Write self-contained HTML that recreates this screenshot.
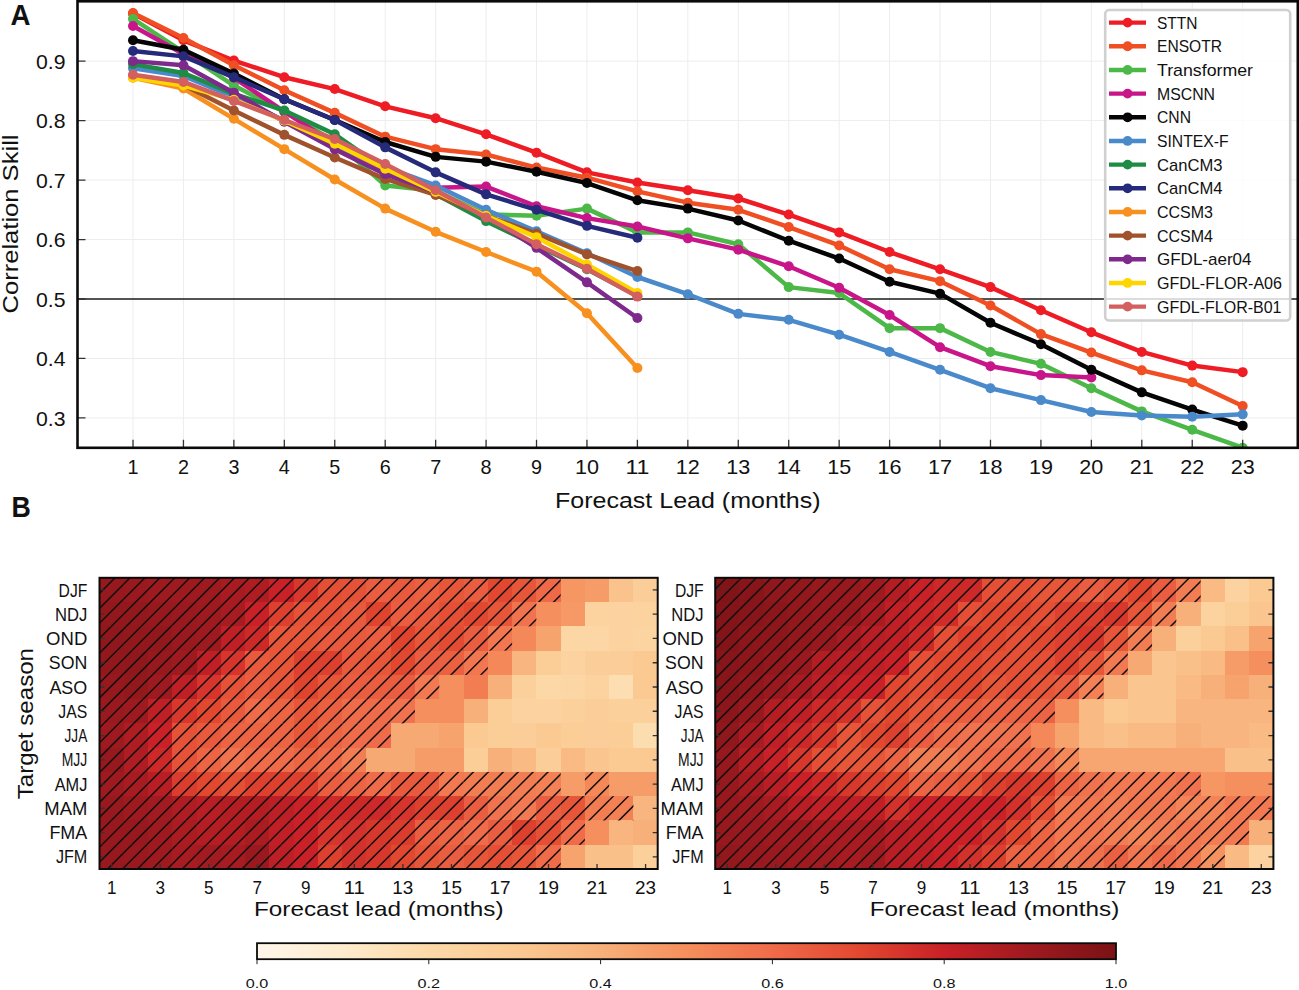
<!DOCTYPE html><html><head><meta charset="utf-8"><style>html,body{margin:0;padding:0;background:#fff;width:1299px;height:990px;overflow:hidden}</style></head><body><svg width="1299" height="990" viewBox="0 0 1299 990" style="display:block">
<rect width="1299" height="990" fill="#ffffff"/>
<defs><clipPath id="clipA"><rect x="77.5" y="1.3" width="1220.3" height="446.5"/></clipPath></defs>
<path d="M133.00 1.3V447.8M183.44 1.3V447.8M233.88 1.3V447.8M284.32 1.3V447.8M334.76 1.3V447.8M385.20 1.3V447.8M435.64 1.3V447.8M486.08 1.3V447.8M536.52 1.3V447.8M586.96 1.3V447.8M637.40 1.3V447.8M687.84 1.3V447.8M738.28 1.3V447.8M788.72 1.3V447.8M839.16 1.3V447.8M889.60 1.3V447.8M940.04 1.3V447.8M990.48 1.3V447.8M1040.92 1.3V447.8M1091.36 1.3V447.8M1141.80 1.3V447.8M1192.24 1.3V447.8M1242.68 1.3V447.8M77.5 417.93H1297.8M77.5 358.47H1297.8M77.5 239.53H1297.8M77.5 180.07H1297.8M77.5 120.60H1297.8M77.5 61.13H1297.8" stroke="#ededed" stroke-width="1" fill="none"/>
<line x1="77.5" y1="299.00" x2="1297.8" y2="299.00" stroke="#1a1a1a" stroke-width="1.6"/>
<g clip-path="url(#clipA)">
<polyline points="133.00,13.56 183.44,40.32 233.88,60.54 284.32,77.19 334.76,89.08 385.20,106.33 435.64,118.22 486.08,134.28 536.52,152.71 586.96,172.34 637.40,182.44 687.84,190.18 738.28,198.50 788.72,214.56 839.16,232.40 889.60,252.02 940.04,269.27 990.48,287.11 1040.92,310.30 1091.36,332.30 1141.80,351.93 1192.24,365.60 1242.68,372.14" fill="none" stroke="#ee1c25" stroke-width="4.5" stroke-linejoin="round"/>
<circle cx="133.00" cy="13.56" r="5.0" fill="#ee1c25"/>
<circle cx="183.44" cy="40.32" r="5.0" fill="#ee1c25"/>
<circle cx="233.88" cy="60.54" r="5.0" fill="#ee1c25"/>
<circle cx="284.32" cy="77.19" r="5.0" fill="#ee1c25"/>
<circle cx="334.76" cy="89.08" r="5.0" fill="#ee1c25"/>
<circle cx="385.20" cy="106.33" r="5.0" fill="#ee1c25"/>
<circle cx="435.64" cy="118.22" r="5.0" fill="#ee1c25"/>
<circle cx="486.08" cy="134.28" r="5.0" fill="#ee1c25"/>
<circle cx="536.52" cy="152.71" r="5.0" fill="#ee1c25"/>
<circle cx="586.96" cy="172.34" r="5.0" fill="#ee1c25"/>
<circle cx="637.40" cy="182.44" r="5.0" fill="#ee1c25"/>
<circle cx="687.84" cy="190.18" r="5.0" fill="#ee1c25"/>
<circle cx="738.28" cy="198.50" r="5.0" fill="#ee1c25"/>
<circle cx="788.72" cy="214.56" r="5.0" fill="#ee1c25"/>
<circle cx="839.16" cy="232.40" r="5.0" fill="#ee1c25"/>
<circle cx="889.60" cy="252.02" r="5.0" fill="#ee1c25"/>
<circle cx="940.04" cy="269.27" r="5.0" fill="#ee1c25"/>
<circle cx="990.48" cy="287.11" r="5.0" fill="#ee1c25"/>
<circle cx="1040.92" cy="310.30" r="5.0" fill="#ee1c25"/>
<circle cx="1091.36" cy="332.30" r="5.0" fill="#ee1c25"/>
<circle cx="1141.80" cy="351.93" r="5.0" fill="#ee1c25"/>
<circle cx="1192.24" cy="365.60" r="5.0" fill="#ee1c25"/>
<circle cx="1242.68" cy="372.14" r="5.0" fill="#ee1c25"/>
<polyline points="133.00,12.96 183.44,37.94 233.88,65.29 284.32,90.27 334.76,112.87 385.20,136.66 435.64,149.14 486.08,154.50 536.52,167.58 586.96,177.69 637.40,191.36 687.84,202.66 738.28,209.80 788.72,227.04 839.16,245.48 889.60,269.27 940.04,281.16 990.48,305.54 1040.92,334.09 1091.36,352.52 1141.80,370.36 1192.24,382.25 1242.68,406.04" fill="none" stroke="#f04e23" stroke-width="4.5" stroke-linejoin="round"/>
<circle cx="133.00" cy="12.96" r="5.0" fill="#f04e23"/>
<circle cx="183.44" cy="37.94" r="5.0" fill="#f04e23"/>
<circle cx="233.88" cy="65.29" r="5.0" fill="#f04e23"/>
<circle cx="284.32" cy="90.27" r="5.0" fill="#f04e23"/>
<circle cx="334.76" cy="112.87" r="5.0" fill="#f04e23"/>
<circle cx="385.20" cy="136.66" r="5.0" fill="#f04e23"/>
<circle cx="435.64" cy="149.14" r="5.0" fill="#f04e23"/>
<circle cx="486.08" cy="154.50" r="5.0" fill="#f04e23"/>
<circle cx="536.52" cy="167.58" r="5.0" fill="#f04e23"/>
<circle cx="586.96" cy="177.69" r="5.0" fill="#f04e23"/>
<circle cx="637.40" cy="191.36" r="5.0" fill="#f04e23"/>
<circle cx="687.84" cy="202.66" r="5.0" fill="#f04e23"/>
<circle cx="738.28" cy="209.80" r="5.0" fill="#f04e23"/>
<circle cx="788.72" cy="227.04" r="5.0" fill="#f04e23"/>
<circle cx="839.16" cy="245.48" r="5.0" fill="#f04e23"/>
<circle cx="889.60" cy="269.27" r="5.0" fill="#f04e23"/>
<circle cx="940.04" cy="281.16" r="5.0" fill="#f04e23"/>
<circle cx="990.48" cy="305.54" r="5.0" fill="#f04e23"/>
<circle cx="1040.92" cy="334.09" r="5.0" fill="#f04e23"/>
<circle cx="1091.36" cy="352.52" r="5.0" fill="#f04e23"/>
<circle cx="1141.80" cy="370.36" r="5.0" fill="#f04e23"/>
<circle cx="1192.24" cy="382.25" r="5.0" fill="#f04e23"/>
<circle cx="1242.68" cy="406.04" r="5.0" fill="#f04e23"/>
<polyline points="133.00,18.91 183.44,52.21 233.88,85.51 284.32,111.68 334.76,141.41 385.20,185.42 435.64,190.77 486.08,214.56 536.52,215.75 586.96,208.61 637.40,232.40 687.84,232.40 738.28,244.29 788.72,287.11 839.16,293.05 889.60,328.14 940.04,328.14 990.48,351.93 1040.92,363.82 1091.36,388.20 1141.80,411.39 1192.24,429.83 1242.68,447.67" fill="none" stroke="#4cb847" stroke-width="4.5" stroke-linejoin="round"/>
<circle cx="133.00" cy="18.91" r="5.0" fill="#4cb847"/>
<circle cx="183.44" cy="52.21" r="5.0" fill="#4cb847"/>
<circle cx="233.88" cy="85.51" r="5.0" fill="#4cb847"/>
<circle cx="284.32" cy="111.68" r="5.0" fill="#4cb847"/>
<circle cx="334.76" cy="141.41" r="5.0" fill="#4cb847"/>
<circle cx="385.20" cy="185.42" r="5.0" fill="#4cb847"/>
<circle cx="435.64" cy="190.77" r="5.0" fill="#4cb847"/>
<circle cx="486.08" cy="214.56" r="5.0" fill="#4cb847"/>
<circle cx="536.52" cy="215.75" r="5.0" fill="#4cb847"/>
<circle cx="586.96" cy="208.61" r="5.0" fill="#4cb847"/>
<circle cx="637.40" cy="232.40" r="5.0" fill="#4cb847"/>
<circle cx="687.84" cy="232.40" r="5.0" fill="#4cb847"/>
<circle cx="738.28" cy="244.29" r="5.0" fill="#4cb847"/>
<circle cx="788.72" cy="287.11" r="5.0" fill="#4cb847"/>
<circle cx="839.16" cy="293.05" r="5.0" fill="#4cb847"/>
<circle cx="889.60" cy="328.14" r="5.0" fill="#4cb847"/>
<circle cx="940.04" cy="328.14" r="5.0" fill="#4cb847"/>
<circle cx="990.48" cy="351.93" r="5.0" fill="#4cb847"/>
<circle cx="1040.92" cy="363.82" r="5.0" fill="#4cb847"/>
<circle cx="1091.36" cy="388.20" r="5.0" fill="#4cb847"/>
<circle cx="1141.80" cy="411.39" r="5.0" fill="#4cb847"/>
<circle cx="1192.24" cy="429.83" r="5.0" fill="#4cb847"/>
<circle cx="1242.68" cy="447.67" r="5.0" fill="#4cb847"/>
<polyline points="133.00,26.05 183.44,54.00 233.88,77.78 284.32,111.68 334.76,143.79 385.20,169.36 435.64,187.80 486.08,186.61 536.52,206.23 586.96,218.12 637.40,226.45 687.84,238.34 738.28,249.64 788.72,266.29 839.16,287.70 889.60,315.06 940.04,347.17 990.48,366.20 1040.92,375.12 1091.36,377.50" fill="none" stroke="#c8168a" stroke-width="4.5" stroke-linejoin="round"/>
<circle cx="133.00" cy="26.05" r="5.0" fill="#c8168a"/>
<circle cx="183.44" cy="54.00" r="5.0" fill="#c8168a"/>
<circle cx="233.88" cy="77.78" r="5.0" fill="#c8168a"/>
<circle cx="284.32" cy="111.68" r="5.0" fill="#c8168a"/>
<circle cx="334.76" cy="143.79" r="5.0" fill="#c8168a"/>
<circle cx="385.20" cy="169.36" r="5.0" fill="#c8168a"/>
<circle cx="435.64" cy="187.80" r="5.0" fill="#c8168a"/>
<circle cx="486.08" cy="186.61" r="5.0" fill="#c8168a"/>
<circle cx="536.52" cy="206.23" r="5.0" fill="#c8168a"/>
<circle cx="586.96" cy="218.12" r="5.0" fill="#c8168a"/>
<circle cx="637.40" cy="226.45" r="5.0" fill="#c8168a"/>
<circle cx="687.84" cy="238.34" r="5.0" fill="#c8168a"/>
<circle cx="738.28" cy="249.64" r="5.0" fill="#c8168a"/>
<circle cx="788.72" cy="266.29" r="5.0" fill="#c8168a"/>
<circle cx="839.16" cy="287.70" r="5.0" fill="#c8168a"/>
<circle cx="889.60" cy="315.06" r="5.0" fill="#c8168a"/>
<circle cx="940.04" cy="347.17" r="5.0" fill="#c8168a"/>
<circle cx="990.48" cy="366.20" r="5.0" fill="#c8168a"/>
<circle cx="1040.92" cy="375.12" r="5.0" fill="#c8168a"/>
<circle cx="1091.36" cy="377.50" r="5.0" fill="#c8168a"/>
<polyline points="133.00,40.32 183.44,49.83 233.88,73.62 284.32,99.19 334.76,120.00 385.20,142.01 435.64,156.87 486.08,161.63 536.52,171.74 586.96,183.04 637.40,200.28 687.84,208.61 738.28,220.50 788.72,240.72 839.16,258.56 889.60,281.75 940.04,293.65 990.48,322.79 1040.92,344.19 1091.36,369.77 1141.80,392.36 1192.24,409.61 1242.68,425.66" fill="none" stroke="#050505" stroke-width="4.5" stroke-linejoin="round"/>
<circle cx="133.00" cy="40.32" r="5.0" fill="#050505"/>
<circle cx="183.44" cy="49.83" r="5.0" fill="#050505"/>
<circle cx="233.88" cy="73.62" r="5.0" fill="#050505"/>
<circle cx="284.32" cy="99.19" r="5.0" fill="#050505"/>
<circle cx="334.76" cy="120.00" r="5.0" fill="#050505"/>
<circle cx="385.20" cy="142.01" r="5.0" fill="#050505"/>
<circle cx="435.64" cy="156.87" r="5.0" fill="#050505"/>
<circle cx="486.08" cy="161.63" r="5.0" fill="#050505"/>
<circle cx="536.52" cy="171.74" r="5.0" fill="#050505"/>
<circle cx="586.96" cy="183.04" r="5.0" fill="#050505"/>
<circle cx="637.40" cy="200.28" r="5.0" fill="#050505"/>
<circle cx="687.84" cy="208.61" r="5.0" fill="#050505"/>
<circle cx="738.28" cy="220.50" r="5.0" fill="#050505"/>
<circle cx="788.72" cy="240.72" r="5.0" fill="#050505"/>
<circle cx="839.16" cy="258.56" r="5.0" fill="#050505"/>
<circle cx="889.60" cy="281.75" r="5.0" fill="#050505"/>
<circle cx="940.04" cy="293.65" r="5.0" fill="#050505"/>
<circle cx="990.48" cy="322.79" r="5.0" fill="#050505"/>
<circle cx="1040.92" cy="344.19" r="5.0" fill="#050505"/>
<circle cx="1091.36" cy="369.77" r="5.0" fill="#050505"/>
<circle cx="1141.80" cy="392.36" r="5.0" fill="#050505"/>
<circle cx="1192.24" cy="409.61" r="5.0" fill="#050505"/>
<circle cx="1242.68" cy="425.66" r="5.0" fill="#050505"/>
<polyline points="133.00,68.27 183.44,76.00 233.88,96.81 284.32,120.60 334.76,144.39 385.20,166.98 435.64,185.42 486.08,209.80 536.52,231.21 586.96,253.21 637.40,277.00 687.84,294.24 738.28,313.87 788.72,319.81 839.16,334.68 889.60,351.93 940.04,369.77 990.48,388.20 1040.92,400.09 1091.36,411.99 1141.80,415.56 1192.24,416.74 1242.68,414.37" fill="none" stroke="#4a8acb" stroke-width="4.5" stroke-linejoin="round"/>
<circle cx="133.00" cy="68.27" r="5.0" fill="#4a8acb"/>
<circle cx="183.44" cy="76.00" r="5.0" fill="#4a8acb"/>
<circle cx="233.88" cy="96.81" r="5.0" fill="#4a8acb"/>
<circle cx="284.32" cy="120.60" r="5.0" fill="#4a8acb"/>
<circle cx="334.76" cy="144.39" r="5.0" fill="#4a8acb"/>
<circle cx="385.20" cy="166.98" r="5.0" fill="#4a8acb"/>
<circle cx="435.64" cy="185.42" r="5.0" fill="#4a8acb"/>
<circle cx="486.08" cy="209.80" r="5.0" fill="#4a8acb"/>
<circle cx="536.52" cy="231.21" r="5.0" fill="#4a8acb"/>
<circle cx="586.96" cy="253.21" r="5.0" fill="#4a8acb"/>
<circle cx="637.40" cy="277.00" r="5.0" fill="#4a8acb"/>
<circle cx="687.84" cy="294.24" r="5.0" fill="#4a8acb"/>
<circle cx="738.28" cy="313.87" r="5.0" fill="#4a8acb"/>
<circle cx="788.72" cy="319.81" r="5.0" fill="#4a8acb"/>
<circle cx="839.16" cy="334.68" r="5.0" fill="#4a8acb"/>
<circle cx="889.60" cy="351.93" r="5.0" fill="#4a8acb"/>
<circle cx="940.04" cy="369.77" r="5.0" fill="#4a8acb"/>
<circle cx="990.48" cy="388.20" r="5.0" fill="#4a8acb"/>
<circle cx="1040.92" cy="400.09" r="5.0" fill="#4a8acb"/>
<circle cx="1091.36" cy="411.99" r="5.0" fill="#4a8acb"/>
<circle cx="1141.80" cy="415.56" r="5.0" fill="#4a8acb"/>
<circle cx="1192.24" cy="416.74" r="5.0" fill="#4a8acb"/>
<circle cx="1242.68" cy="414.37" r="5.0" fill="#4a8acb"/>
<polyline points="133.00,64.11 183.44,73.03 233.88,93.84 284.32,110.49 334.76,134.28 385.20,169.36 435.64,194.34 486.08,221.10 536.52,245.48 586.96,269.27 637.40,296.03" fill="none" stroke="#1e8c45" stroke-width="4.5" stroke-linejoin="round"/>
<circle cx="133.00" cy="64.11" r="5.0" fill="#1e8c45"/>
<circle cx="183.44" cy="73.03" r="5.0" fill="#1e8c45"/>
<circle cx="233.88" cy="93.84" r="5.0" fill="#1e8c45"/>
<circle cx="284.32" cy="110.49" r="5.0" fill="#1e8c45"/>
<circle cx="334.76" cy="134.28" r="5.0" fill="#1e8c45"/>
<circle cx="385.20" cy="169.36" r="5.0" fill="#1e8c45"/>
<circle cx="435.64" cy="194.34" r="5.0" fill="#1e8c45"/>
<circle cx="486.08" cy="221.10" r="5.0" fill="#1e8c45"/>
<circle cx="536.52" cy="245.48" r="5.0" fill="#1e8c45"/>
<circle cx="586.96" cy="269.27" r="5.0" fill="#1e8c45"/>
<circle cx="637.40" cy="296.03" r="5.0" fill="#1e8c45"/>
<polyline points="133.00,51.02 183.44,56.37 233.88,77.19 284.32,99.19 334.76,120.00 385.20,147.36 435.64,172.34 486.08,194.34 536.52,209.80 586.96,225.86 637.40,237.75" fill="none" stroke="#262a7a" stroke-width="4.5" stroke-linejoin="round"/>
<circle cx="133.00" cy="51.02" r="5.0" fill="#262a7a"/>
<circle cx="183.44" cy="56.37" r="5.0" fill="#262a7a"/>
<circle cx="233.88" cy="77.19" r="5.0" fill="#262a7a"/>
<circle cx="284.32" cy="99.19" r="5.0" fill="#262a7a"/>
<circle cx="334.76" cy="120.00" r="5.0" fill="#262a7a"/>
<circle cx="385.20" cy="147.36" r="5.0" fill="#262a7a"/>
<circle cx="435.64" cy="172.34" r="5.0" fill="#262a7a"/>
<circle cx="486.08" cy="194.34" r="5.0" fill="#262a7a"/>
<circle cx="536.52" cy="209.80" r="5.0" fill="#262a7a"/>
<circle cx="586.96" cy="225.86" r="5.0" fill="#262a7a"/>
<circle cx="637.40" cy="237.75" r="5.0" fill="#262a7a"/>
<polyline points="133.00,77.78 183.44,88.49 233.88,118.81 284.32,149.14 334.76,179.47 385.20,208.61 435.64,231.80 486.08,252.02 536.52,271.65 586.96,313.27 637.40,367.98" fill="none" stroke="#f7901e" stroke-width="4.5" stroke-linejoin="round"/>
<circle cx="133.00" cy="77.78" r="5.0" fill="#f7901e"/>
<circle cx="183.44" cy="88.49" r="5.0" fill="#f7901e"/>
<circle cx="233.88" cy="118.81" r="5.0" fill="#f7901e"/>
<circle cx="284.32" cy="149.14" r="5.0" fill="#f7901e"/>
<circle cx="334.76" cy="179.47" r="5.0" fill="#f7901e"/>
<circle cx="385.20" cy="208.61" r="5.0" fill="#f7901e"/>
<circle cx="435.64" cy="231.80" r="5.0" fill="#f7901e"/>
<circle cx="486.08" cy="252.02" r="5.0" fill="#f7901e"/>
<circle cx="536.52" cy="271.65" r="5.0" fill="#f7901e"/>
<circle cx="586.96" cy="313.27" r="5.0" fill="#f7901e"/>
<circle cx="637.40" cy="367.98" r="5.0" fill="#f7901e"/>
<polyline points="133.00,76.00 183.44,84.92 233.88,110.49 284.32,134.87 334.76,157.47 385.20,178.88 435.64,194.93 486.08,215.75 536.52,233.59 586.96,254.40 637.40,271.05" fill="none" stroke="#a0522d" stroke-width="4.5" stroke-linejoin="round"/>
<circle cx="133.00" cy="76.00" r="5.0" fill="#a0522d"/>
<circle cx="183.44" cy="84.92" r="5.0" fill="#a0522d"/>
<circle cx="233.88" cy="110.49" r="5.0" fill="#a0522d"/>
<circle cx="284.32" cy="134.87" r="5.0" fill="#a0522d"/>
<circle cx="334.76" cy="157.47" r="5.0" fill="#a0522d"/>
<circle cx="385.20" cy="178.88" r="5.0" fill="#a0522d"/>
<circle cx="435.64" cy="194.93" r="5.0" fill="#a0522d"/>
<circle cx="486.08" cy="215.75" r="5.0" fill="#a0522d"/>
<circle cx="536.52" cy="233.59" r="5.0" fill="#a0522d"/>
<circle cx="586.96" cy="254.40" r="5.0" fill="#a0522d"/>
<circle cx="637.40" cy="271.05" r="5.0" fill="#a0522d"/>
<polyline points="133.00,61.13 183.44,65.29 233.88,92.65 284.32,121.79 334.76,149.14 385.20,174.12 435.64,191.96 486.08,215.75 536.52,247.86 586.96,282.35 637.40,318.03" fill="none" stroke="#7d2a8c" stroke-width="4.5" stroke-linejoin="round"/>
<circle cx="133.00" cy="61.13" r="5.0" fill="#7d2a8c"/>
<circle cx="183.44" cy="65.29" r="5.0" fill="#7d2a8c"/>
<circle cx="233.88" cy="92.65" r="5.0" fill="#7d2a8c"/>
<circle cx="284.32" cy="121.79" r="5.0" fill="#7d2a8c"/>
<circle cx="334.76" cy="149.14" r="5.0" fill="#7d2a8c"/>
<circle cx="385.20" cy="174.12" r="5.0" fill="#7d2a8c"/>
<circle cx="435.64" cy="191.96" r="5.0" fill="#7d2a8c"/>
<circle cx="486.08" cy="215.75" r="5.0" fill="#7d2a8c"/>
<circle cx="536.52" cy="247.86" r="5.0" fill="#7d2a8c"/>
<circle cx="586.96" cy="282.35" r="5.0" fill="#7d2a8c"/>
<circle cx="637.40" cy="318.03" r="5.0" fill="#7d2a8c"/>
<polyline points="133.00,77.78 183.44,85.51 233.88,99.79 284.32,120.60 334.76,143.79 385.20,168.77 435.64,191.96 486.08,215.75 536.52,237.15 586.96,264.51 637.40,293.05" fill="none" stroke="#ffd500" stroke-width="4.5" stroke-linejoin="round"/>
<circle cx="133.00" cy="77.78" r="5.0" fill="#ffd500"/>
<circle cx="183.44" cy="85.51" r="5.0" fill="#ffd500"/>
<circle cx="233.88" cy="99.79" r="5.0" fill="#ffd500"/>
<circle cx="284.32" cy="120.60" r="5.0" fill="#ffd500"/>
<circle cx="334.76" cy="143.79" r="5.0" fill="#ffd500"/>
<circle cx="385.20" cy="168.77" r="5.0" fill="#ffd500"/>
<circle cx="435.64" cy="191.96" r="5.0" fill="#ffd500"/>
<circle cx="486.08" cy="215.75" r="5.0" fill="#ffd500"/>
<circle cx="536.52" cy="237.15" r="5.0" fill="#ffd500"/>
<circle cx="586.96" cy="264.51" r="5.0" fill="#ffd500"/>
<circle cx="637.40" cy="293.05" r="5.0" fill="#ffd500"/>
<polyline points="133.00,74.81 183.44,81.95 233.88,100.97 284.32,120.00 334.76,139.03 385.20,164.01 435.64,190.18 486.08,217.53 536.52,244.29 586.96,268.67 637.40,296.62" fill="none" stroke="#d35f5f" stroke-width="4.5" stroke-linejoin="round"/>
<circle cx="133.00" cy="74.81" r="5.0" fill="#d35f5f"/>
<circle cx="183.44" cy="81.95" r="5.0" fill="#d35f5f"/>
<circle cx="233.88" cy="100.97" r="5.0" fill="#d35f5f"/>
<circle cx="284.32" cy="120.00" r="5.0" fill="#d35f5f"/>
<circle cx="334.76" cy="139.03" r="5.0" fill="#d35f5f"/>
<circle cx="385.20" cy="164.01" r="5.0" fill="#d35f5f"/>
<circle cx="435.64" cy="190.18" r="5.0" fill="#d35f5f"/>
<circle cx="486.08" cy="217.53" r="5.0" fill="#d35f5f"/>
<circle cx="536.52" cy="244.29" r="5.0" fill="#d35f5f"/>
<circle cx="586.96" cy="268.67" r="5.0" fill="#d35f5f"/>
<circle cx="637.40" cy="296.62" r="5.0" fill="#d35f5f"/>
</g>
<path d="M133.00 447.8v-8M183.44 447.8v-8M233.88 447.8v-8M284.32 447.8v-8M334.76 447.8v-8M385.20 447.8v-8M435.64 447.8v-8M486.08 447.8v-8M536.52 447.8v-8M586.96 447.8v-8M637.40 447.8v-8M687.84 447.8v-8M738.28 447.8v-8M788.72 447.8v-8M839.16 447.8v-8M889.60 447.8v-8M940.04 447.8v-8M990.48 447.8v-8M1040.92 447.8v-8M1091.36 447.8v-8M1141.80 447.8v-8M1192.24 447.8v-8M1242.68 447.8v-8M77.5 417.93h8M77.5 358.47h8M77.5 299.00h8M77.5 239.53h8M77.5 180.07h8M77.5 120.60h8M77.5 61.13h8" stroke="#333" stroke-width="1.3" fill="none"/>
<rect x="77.5" y="1.3" width="1220.30" height="446.50" fill="none" stroke="#0a0a0a" stroke-width="2.6"/>
<text x="65.50" y="425.53" font-family="'Liberation Sans', sans-serif" font-size="21" font-weight="normal" text-anchor="end" fill="#111" textLength="29.5" lengthAdjust="spacingAndGlyphs">0.3</text>
<text x="65.50" y="366.07" font-family="'Liberation Sans', sans-serif" font-size="21" font-weight="normal" text-anchor="end" fill="#111" textLength="29.5" lengthAdjust="spacingAndGlyphs">0.4</text>
<text x="65.50" y="306.60" font-family="'Liberation Sans', sans-serif" font-size="21" font-weight="normal" text-anchor="end" fill="#111" textLength="29.5" lengthAdjust="spacingAndGlyphs">0.5</text>
<text x="65.50" y="247.13" font-family="'Liberation Sans', sans-serif" font-size="21" font-weight="normal" text-anchor="end" fill="#111" textLength="29.5" lengthAdjust="spacingAndGlyphs">0.6</text>
<text x="65.50" y="187.67" font-family="'Liberation Sans', sans-serif" font-size="21" font-weight="normal" text-anchor="end" fill="#111" textLength="29.5" lengthAdjust="spacingAndGlyphs">0.7</text>
<text x="65.50" y="128.20" font-family="'Liberation Sans', sans-serif" font-size="21" font-weight="normal" text-anchor="end" fill="#111" textLength="29.5" lengthAdjust="spacingAndGlyphs">0.8</text>
<text x="65.50" y="68.73" font-family="'Liberation Sans', sans-serif" font-size="21" font-weight="normal" text-anchor="end" fill="#111" textLength="29.5" lengthAdjust="spacingAndGlyphs">0.9</text>
<text x="133.00" y="474.20" font-family="'Liberation Sans', sans-serif" font-size="21" font-weight="normal" text-anchor="middle" fill="#111" textLength="11" lengthAdjust="spacingAndGlyphs">1</text>
<text x="183.44" y="474.20" font-family="'Liberation Sans', sans-serif" font-size="21" font-weight="normal" text-anchor="middle" fill="#111" textLength="11" lengthAdjust="spacingAndGlyphs">2</text>
<text x="233.88" y="474.20" font-family="'Liberation Sans', sans-serif" font-size="21" font-weight="normal" text-anchor="middle" fill="#111" textLength="11" lengthAdjust="spacingAndGlyphs">3</text>
<text x="284.32" y="474.20" font-family="'Liberation Sans', sans-serif" font-size="21" font-weight="normal" text-anchor="middle" fill="#111" textLength="11" lengthAdjust="spacingAndGlyphs">4</text>
<text x="334.76" y="474.20" font-family="'Liberation Sans', sans-serif" font-size="21" font-weight="normal" text-anchor="middle" fill="#111" textLength="11" lengthAdjust="spacingAndGlyphs">5</text>
<text x="385.20" y="474.20" font-family="'Liberation Sans', sans-serif" font-size="21" font-weight="normal" text-anchor="middle" fill="#111" textLength="11" lengthAdjust="spacingAndGlyphs">6</text>
<text x="435.64" y="474.20" font-family="'Liberation Sans', sans-serif" font-size="21" font-weight="normal" text-anchor="middle" fill="#111" textLength="11" lengthAdjust="spacingAndGlyphs">7</text>
<text x="486.08" y="474.20" font-family="'Liberation Sans', sans-serif" font-size="21" font-weight="normal" text-anchor="middle" fill="#111" textLength="11" lengthAdjust="spacingAndGlyphs">8</text>
<text x="536.52" y="474.20" font-family="'Liberation Sans', sans-serif" font-size="21" font-weight="normal" text-anchor="middle" fill="#111" textLength="11" lengthAdjust="spacingAndGlyphs">9</text>
<text x="586.96" y="474.20" font-family="'Liberation Sans', sans-serif" font-size="21" font-weight="normal" text-anchor="middle" fill="#111" textLength="24" lengthAdjust="spacingAndGlyphs">10</text>
<text x="637.40" y="474.20" font-family="'Liberation Sans', sans-serif" font-size="21" font-weight="normal" text-anchor="middle" fill="#111" textLength="24" lengthAdjust="spacingAndGlyphs">11</text>
<text x="687.84" y="474.20" font-family="'Liberation Sans', sans-serif" font-size="21" font-weight="normal" text-anchor="middle" fill="#111" textLength="24" lengthAdjust="spacingAndGlyphs">12</text>
<text x="738.28" y="474.20" font-family="'Liberation Sans', sans-serif" font-size="21" font-weight="normal" text-anchor="middle" fill="#111" textLength="24" lengthAdjust="spacingAndGlyphs">13</text>
<text x="788.72" y="474.20" font-family="'Liberation Sans', sans-serif" font-size="21" font-weight="normal" text-anchor="middle" fill="#111" textLength="24" lengthAdjust="spacingAndGlyphs">14</text>
<text x="839.16" y="474.20" font-family="'Liberation Sans', sans-serif" font-size="21" font-weight="normal" text-anchor="middle" fill="#111" textLength="24" lengthAdjust="spacingAndGlyphs">15</text>
<text x="889.60" y="474.20" font-family="'Liberation Sans', sans-serif" font-size="21" font-weight="normal" text-anchor="middle" fill="#111" textLength="24" lengthAdjust="spacingAndGlyphs">16</text>
<text x="940.04" y="474.20" font-family="'Liberation Sans', sans-serif" font-size="21" font-weight="normal" text-anchor="middle" fill="#111" textLength="24" lengthAdjust="spacingAndGlyphs">17</text>
<text x="990.48" y="474.20" font-family="'Liberation Sans', sans-serif" font-size="21" font-weight="normal" text-anchor="middle" fill="#111" textLength="24" lengthAdjust="spacingAndGlyphs">18</text>
<text x="1040.92" y="474.20" font-family="'Liberation Sans', sans-serif" font-size="21" font-weight="normal" text-anchor="middle" fill="#111" textLength="24" lengthAdjust="spacingAndGlyphs">19</text>
<text x="1091.36" y="474.20" font-family="'Liberation Sans', sans-serif" font-size="21" font-weight="normal" text-anchor="middle" fill="#111" textLength="24" lengthAdjust="spacingAndGlyphs">20</text>
<text x="1141.80" y="474.20" font-family="'Liberation Sans', sans-serif" font-size="21" font-weight="normal" text-anchor="middle" fill="#111" textLength="24" lengthAdjust="spacingAndGlyphs">21</text>
<text x="1192.24" y="474.20" font-family="'Liberation Sans', sans-serif" font-size="21" font-weight="normal" text-anchor="middle" fill="#111" textLength="24" lengthAdjust="spacingAndGlyphs">22</text>
<text x="1242.68" y="474.20" font-family="'Liberation Sans', sans-serif" font-size="21" font-weight="normal" text-anchor="middle" fill="#111" textLength="24" lengthAdjust="spacingAndGlyphs">23</text>
<text x="555.00" y="508.00" font-family="'Liberation Sans', sans-serif" font-size="22.6" font-weight="normal" text-anchor="start" fill="#111" textLength="265.5" lengthAdjust="spacingAndGlyphs">Forecast Lead (months)</text>
<text transform="translate(17.8,313.5) rotate(-90)" font-family="'Liberation Sans', sans-serif" font-size="22" fill="#111" textLength="179" lengthAdjust="spacingAndGlyphs">Correlation Skill</text>
<text x="10.50" y="24.70" font-family="'Liberation Sans', sans-serif" font-size="29" font-weight="bold" text-anchor="start" fill="#111" textLength="20" lengthAdjust="spacingAndGlyphs">A</text>
<rect x="1105.2" y="10" width="185" height="310.5" rx="4" ry="4" fill="#ffffff" fill-opacity="0.8" stroke="#d0d0d0" stroke-width="2.6"/>
<line x1="1109" y1="22.60" x2="1146" y2="22.60" stroke="#ee1c25" stroke-width="4.4"/>
<circle cx="1127.6" cy="22.60" r="4.9" fill="#ee1c25"/>
<text x="1157.00" y="28.50" font-family="'Liberation Sans', sans-serif" font-size="16.6" font-weight="normal" text-anchor="start" fill="#111" textLength="40.4" lengthAdjust="spacingAndGlyphs">STTN</text>
<line x1="1109" y1="46.27" x2="1146" y2="46.27" stroke="#f04e23" stroke-width="4.4"/>
<circle cx="1127.6" cy="46.27" r="4.9" fill="#f04e23"/>
<text x="1157.00" y="52.17" font-family="'Liberation Sans', sans-serif" font-size="16.6" font-weight="normal" text-anchor="start" fill="#111" textLength="65" lengthAdjust="spacingAndGlyphs">ENSOTR</text>
<line x1="1109" y1="69.94" x2="1146" y2="69.94" stroke="#4cb847" stroke-width="4.4"/>
<circle cx="1127.6" cy="69.94" r="4.9" fill="#4cb847"/>
<text x="1157.00" y="75.84" font-family="'Liberation Sans', sans-serif" font-size="16.6" font-weight="normal" text-anchor="start" fill="#111" textLength="96" lengthAdjust="spacingAndGlyphs">Transformer</text>
<line x1="1109" y1="93.61" x2="1146" y2="93.61" stroke="#c8168a" stroke-width="4.4"/>
<circle cx="1127.6" cy="93.61" r="4.9" fill="#c8168a"/>
<text x="1157.00" y="99.51" font-family="'Liberation Sans', sans-serif" font-size="16.6" font-weight="normal" text-anchor="start" fill="#111" textLength="58" lengthAdjust="spacingAndGlyphs">MSCNN</text>
<line x1="1109" y1="117.28" x2="1146" y2="117.28" stroke="#050505" stroke-width="4.4"/>
<circle cx="1127.6" cy="117.28" r="4.9" fill="#050505"/>
<text x="1157.00" y="123.18" font-family="'Liberation Sans', sans-serif" font-size="16.6" font-weight="normal" text-anchor="start" fill="#111" textLength="34" lengthAdjust="spacingAndGlyphs">CNN</text>
<line x1="1109" y1="140.95" x2="1146" y2="140.95" stroke="#4a8acb" stroke-width="4.4"/>
<circle cx="1127.6" cy="140.95" r="4.9" fill="#4a8acb"/>
<text x="1157.00" y="146.85" font-family="'Liberation Sans', sans-serif" font-size="16.6" font-weight="normal" text-anchor="start" fill="#111" textLength="71.6" lengthAdjust="spacingAndGlyphs">SINTEX-F</text>
<line x1="1109" y1="164.62" x2="1146" y2="164.62" stroke="#1e8c45" stroke-width="4.4"/>
<circle cx="1127.6" cy="164.62" r="4.9" fill="#1e8c45"/>
<text x="1157.00" y="170.52" font-family="'Liberation Sans', sans-serif" font-size="16.6" font-weight="normal" text-anchor="start" fill="#111" textLength="65.5" lengthAdjust="spacingAndGlyphs">CanCM3</text>
<line x1="1109" y1="188.29" x2="1146" y2="188.29" stroke="#262a7a" stroke-width="4.4"/>
<circle cx="1127.6" cy="188.29" r="4.9" fill="#262a7a"/>
<text x="1157.00" y="194.19" font-family="'Liberation Sans', sans-serif" font-size="16.6" font-weight="normal" text-anchor="start" fill="#111" textLength="65.5" lengthAdjust="spacingAndGlyphs">CanCM4</text>
<line x1="1109" y1="211.96" x2="1146" y2="211.96" stroke="#f7901e" stroke-width="4.4"/>
<circle cx="1127.6" cy="211.96" r="4.9" fill="#f7901e"/>
<text x="1157.00" y="217.86" font-family="'Liberation Sans', sans-serif" font-size="16.6" font-weight="normal" text-anchor="start" fill="#111" textLength="56" lengthAdjust="spacingAndGlyphs">CCSM3</text>
<line x1="1109" y1="235.63" x2="1146" y2="235.63" stroke="#a0522d" stroke-width="4.4"/>
<circle cx="1127.6" cy="235.63" r="4.9" fill="#a0522d"/>
<text x="1157.00" y="241.53" font-family="'Liberation Sans', sans-serif" font-size="16.6" font-weight="normal" text-anchor="start" fill="#111" textLength="56" lengthAdjust="spacingAndGlyphs">CCSM4</text>
<line x1="1109" y1="259.30" x2="1146" y2="259.30" stroke="#7d2a8c" stroke-width="4.4"/>
<circle cx="1127.6" cy="259.30" r="4.9" fill="#7d2a8c"/>
<text x="1157.00" y="265.20" font-family="'Liberation Sans', sans-serif" font-size="16.6" font-weight="normal" text-anchor="start" fill="#111" textLength="94.5" lengthAdjust="spacingAndGlyphs">GFDL-aer04</text>
<line x1="1109" y1="282.97" x2="1146" y2="282.97" stroke="#ffd500" stroke-width="4.4"/>
<circle cx="1127.6" cy="282.97" r="4.9" fill="#ffd500"/>
<text x="1157.00" y="288.87" font-family="'Liberation Sans', sans-serif" font-size="16.6" font-weight="normal" text-anchor="start" fill="#111" textLength="125" lengthAdjust="spacingAndGlyphs">GFDL-FLOR-A06</text>
<line x1="1109" y1="306.64" x2="1146" y2="306.64" stroke="#d35f5f" stroke-width="4.4"/>
<circle cx="1127.6" cy="306.64" r="4.9" fill="#d35f5f"/>
<text x="1157.00" y="312.54" font-family="'Liberation Sans', sans-serif" font-size="16.6" font-weight="normal" text-anchor="start" fill="#111" textLength="124.5" lengthAdjust="spacingAndGlyphs">GFDL-FLOR-B01</text>
<text x="11.40" y="516.80" font-family="'Liberation Sans', sans-serif" font-size="30" font-weight="bold" text-anchor="start" fill="#111" textLength="19.3" lengthAdjust="spacingAndGlyphs">B</text>
<clipPath id="hclip1"><rect x="99.50" y="577.80" width="24.27" height="24.27"/><rect x="123.77" y="577.80" width="24.27" height="24.27"/><rect x="148.04" y="577.80" width="24.27" height="24.27"/><rect x="172.31" y="577.80" width="24.27" height="24.27"/><rect x="196.58" y="577.80" width="24.27" height="24.27"/><rect x="220.85" y="577.80" width="24.27" height="24.27"/><rect x="245.12" y="577.80" width="24.27" height="24.27"/><rect x="269.39" y="577.80" width="24.27" height="24.27"/><rect x="293.66" y="577.80" width="24.27" height="24.27"/><rect x="317.93" y="577.80" width="24.27" height="24.27"/><rect x="342.20" y="577.80" width="24.27" height="24.27"/><rect x="366.47" y="577.80" width="24.27" height="24.27"/><rect x="390.74" y="577.80" width="24.27" height="24.27"/><rect x="415.01" y="577.80" width="24.27" height="24.27"/><rect x="439.28" y="577.80" width="24.27" height="24.27"/><rect x="463.55" y="577.80" width="24.27" height="24.27"/><rect x="487.82" y="577.80" width="24.27" height="24.27"/><rect x="512.09" y="577.80" width="24.27" height="24.27"/><rect x="536.36" y="577.80" width="24.27" height="24.27"/><rect x="99.50" y="602.07" width="24.27" height="24.27"/><rect x="123.77" y="602.07" width="24.27" height="24.27"/><rect x="148.04" y="602.07" width="24.27" height="24.27"/><rect x="172.31" y="602.07" width="24.27" height="24.27"/><rect x="196.58" y="602.07" width="24.27" height="24.27"/><rect x="220.85" y="602.07" width="24.27" height="24.27"/><rect x="245.12" y="602.07" width="24.27" height="24.27"/><rect x="269.39" y="602.07" width="24.27" height="24.27"/><rect x="293.66" y="602.07" width="24.27" height="24.27"/><rect x="317.93" y="602.07" width="24.27" height="24.27"/><rect x="342.20" y="602.07" width="24.27" height="24.27"/><rect x="366.47" y="602.07" width="24.27" height="24.27"/><rect x="390.74" y="602.07" width="24.27" height="24.27"/><rect x="415.01" y="602.07" width="24.27" height="24.27"/><rect x="439.28" y="602.07" width="24.27" height="24.27"/><rect x="463.55" y="602.07" width="24.27" height="24.27"/><rect x="487.82" y="602.07" width="24.27" height="24.27"/><rect x="512.09" y="602.07" width="24.27" height="24.27"/><rect x="99.50" y="626.33" width="24.27" height="24.27"/><rect x="123.77" y="626.33" width="24.27" height="24.27"/><rect x="148.04" y="626.33" width="24.27" height="24.27"/><rect x="172.31" y="626.33" width="24.27" height="24.27"/><rect x="196.58" y="626.33" width="24.27" height="24.27"/><rect x="220.85" y="626.33" width="24.27" height="24.27"/><rect x="245.12" y="626.33" width="24.27" height="24.27"/><rect x="269.39" y="626.33" width="24.27" height="24.27"/><rect x="293.66" y="626.33" width="24.27" height="24.27"/><rect x="317.93" y="626.33" width="24.27" height="24.27"/><rect x="342.20" y="626.33" width="24.27" height="24.27"/><rect x="366.47" y="626.33" width="24.27" height="24.27"/><rect x="390.74" y="626.33" width="24.27" height="24.27"/><rect x="415.01" y="626.33" width="24.27" height="24.27"/><rect x="439.28" y="626.33" width="24.27" height="24.27"/><rect x="463.55" y="626.33" width="24.27" height="24.27"/><rect x="487.82" y="626.33" width="24.27" height="24.27"/><rect x="99.50" y="650.60" width="24.27" height="24.27"/><rect x="123.77" y="650.60" width="24.27" height="24.27"/><rect x="148.04" y="650.60" width="24.27" height="24.27"/><rect x="172.31" y="650.60" width="24.27" height="24.27"/><rect x="196.58" y="650.60" width="24.27" height="24.27"/><rect x="220.85" y="650.60" width="24.27" height="24.27"/><rect x="245.12" y="650.60" width="24.27" height="24.27"/><rect x="269.39" y="650.60" width="24.27" height="24.27"/><rect x="293.66" y="650.60" width="24.27" height="24.27"/><rect x="317.93" y="650.60" width="24.27" height="24.27"/><rect x="342.20" y="650.60" width="24.27" height="24.27"/><rect x="366.47" y="650.60" width="24.27" height="24.27"/><rect x="390.74" y="650.60" width="24.27" height="24.27"/><rect x="415.01" y="650.60" width="24.27" height="24.27"/><rect x="439.28" y="650.60" width="24.27" height="24.27"/><rect x="463.55" y="650.60" width="24.27" height="24.27"/><rect x="99.50" y="674.87" width="24.27" height="24.27"/><rect x="123.77" y="674.87" width="24.27" height="24.27"/><rect x="148.04" y="674.87" width="24.27" height="24.27"/><rect x="172.31" y="674.87" width="24.27" height="24.27"/><rect x="196.58" y="674.87" width="24.27" height="24.27"/><rect x="220.85" y="674.87" width="24.27" height="24.27"/><rect x="245.12" y="674.87" width="24.27" height="24.27"/><rect x="269.39" y="674.87" width="24.27" height="24.27"/><rect x="293.66" y="674.87" width="24.27" height="24.27"/><rect x="317.93" y="674.87" width="24.27" height="24.27"/><rect x="342.20" y="674.87" width="24.27" height="24.27"/><rect x="366.47" y="674.87" width="24.27" height="24.27"/><rect x="390.74" y="674.87" width="24.27" height="24.27"/><rect x="415.01" y="674.87" width="24.27" height="24.27"/><rect x="99.50" y="699.13" width="24.27" height="24.27"/><rect x="123.77" y="699.13" width="24.27" height="24.27"/><rect x="148.04" y="699.13" width="24.27" height="24.27"/><rect x="172.31" y="699.13" width="24.27" height="24.27"/><rect x="196.58" y="699.13" width="24.27" height="24.27"/><rect x="220.85" y="699.13" width="24.27" height="24.27"/><rect x="245.12" y="699.13" width="24.27" height="24.27"/><rect x="269.39" y="699.13" width="24.27" height="24.27"/><rect x="293.66" y="699.13" width="24.27" height="24.27"/><rect x="317.93" y="699.13" width="24.27" height="24.27"/><rect x="342.20" y="699.13" width="24.27" height="24.27"/><rect x="366.47" y="699.13" width="24.27" height="24.27"/><rect x="390.74" y="699.13" width="24.27" height="24.27"/><rect x="99.50" y="723.40" width="24.27" height="24.27"/><rect x="123.77" y="723.40" width="24.27" height="24.27"/><rect x="148.04" y="723.40" width="24.27" height="24.27"/><rect x="172.31" y="723.40" width="24.27" height="24.27"/><rect x="196.58" y="723.40" width="24.27" height="24.27"/><rect x="220.85" y="723.40" width="24.27" height="24.27"/><rect x="245.12" y="723.40" width="24.27" height="24.27"/><rect x="269.39" y="723.40" width="24.27" height="24.27"/><rect x="293.66" y="723.40" width="24.27" height="24.27"/><rect x="317.93" y="723.40" width="24.27" height="24.27"/><rect x="342.20" y="723.40" width="24.27" height="24.27"/><rect x="366.47" y="723.40" width="24.27" height="24.27"/><rect x="99.50" y="747.67" width="24.27" height="24.27"/><rect x="123.77" y="747.67" width="24.27" height="24.27"/><rect x="148.04" y="747.67" width="24.27" height="24.27"/><rect x="172.31" y="747.67" width="24.27" height="24.27"/><rect x="196.58" y="747.67" width="24.27" height="24.27"/><rect x="220.85" y="747.67" width="24.27" height="24.27"/><rect x="245.12" y="747.67" width="24.27" height="24.27"/><rect x="269.39" y="747.67" width="24.27" height="24.27"/><rect x="293.66" y="747.67" width="24.27" height="24.27"/><rect x="317.93" y="747.67" width="24.27" height="24.27"/><rect x="342.20" y="747.67" width="24.27" height="24.27"/><rect x="99.50" y="771.93" width="24.27" height="24.27"/><rect x="123.77" y="771.93" width="24.27" height="24.27"/><rect x="148.04" y="771.93" width="24.27" height="24.27"/><rect x="172.31" y="771.93" width="24.27" height="24.27"/><rect x="196.58" y="771.93" width="24.27" height="24.27"/><rect x="220.85" y="771.93" width="24.27" height="24.27"/><rect x="245.12" y="771.93" width="24.27" height="24.27"/><rect x="269.39" y="771.93" width="24.27" height="24.27"/><rect x="293.66" y="771.93" width="24.27" height="24.27"/><rect x="317.93" y="771.93" width="24.27" height="24.27"/><rect x="342.20" y="771.93" width="24.27" height="24.27"/><rect x="366.47" y="771.93" width="24.27" height="24.27"/><rect x="390.74" y="771.93" width="24.27" height="24.27"/><rect x="415.01" y="771.93" width="24.27" height="24.27"/><rect x="439.28" y="771.93" width="24.27" height="24.27"/><rect x="463.55" y="771.93" width="24.27" height="24.27"/><rect x="487.82" y="771.93" width="24.27" height="24.27"/><rect x="512.09" y="771.93" width="24.27" height="24.27"/><rect x="536.36" y="771.93" width="24.27" height="24.27"/><rect x="584.90" y="771.93" width="24.27" height="24.27"/><rect x="99.50" y="796.20" width="24.27" height="24.27"/><rect x="123.77" y="796.20" width="24.27" height="24.27"/><rect x="148.04" y="796.20" width="24.27" height="24.27"/><rect x="172.31" y="796.20" width="24.27" height="24.27"/><rect x="196.58" y="796.20" width="24.27" height="24.27"/><rect x="220.85" y="796.20" width="24.27" height="24.27"/><rect x="245.12" y="796.20" width="24.27" height="24.27"/><rect x="269.39" y="796.20" width="24.27" height="24.27"/><rect x="293.66" y="796.20" width="24.27" height="24.27"/><rect x="317.93" y="796.20" width="24.27" height="24.27"/><rect x="342.20" y="796.20" width="24.27" height="24.27"/><rect x="366.47" y="796.20" width="24.27" height="24.27"/><rect x="390.74" y="796.20" width="24.27" height="24.27"/><rect x="415.01" y="796.20" width="24.27" height="24.27"/><rect x="439.28" y="796.20" width="24.27" height="24.27"/><rect x="463.55" y="796.20" width="24.27" height="24.27"/><rect x="487.82" y="796.20" width="24.27" height="24.27"/><rect x="512.09" y="796.20" width="24.27" height="24.27"/><rect x="536.36" y="796.20" width="24.27" height="24.27"/><rect x="560.63" y="796.20" width="24.27" height="24.27"/><rect x="584.90" y="796.20" width="24.27" height="24.27"/><rect x="609.17" y="796.20" width="24.27" height="24.27"/><rect x="99.50" y="820.47" width="24.27" height="24.27"/><rect x="123.77" y="820.47" width="24.27" height="24.27"/><rect x="148.04" y="820.47" width="24.27" height="24.27"/><rect x="172.31" y="820.47" width="24.27" height="24.27"/><rect x="196.58" y="820.47" width="24.27" height="24.27"/><rect x="220.85" y="820.47" width="24.27" height="24.27"/><rect x="245.12" y="820.47" width="24.27" height="24.27"/><rect x="269.39" y="820.47" width="24.27" height="24.27"/><rect x="293.66" y="820.47" width="24.27" height="24.27"/><rect x="317.93" y="820.47" width="24.27" height="24.27"/><rect x="342.20" y="820.47" width="24.27" height="24.27"/><rect x="366.47" y="820.47" width="24.27" height="24.27"/><rect x="390.74" y="820.47" width="24.27" height="24.27"/><rect x="415.01" y="820.47" width="24.27" height="24.27"/><rect x="439.28" y="820.47" width="24.27" height="24.27"/><rect x="463.55" y="820.47" width="24.27" height="24.27"/><rect x="487.82" y="820.47" width="24.27" height="24.27"/><rect x="512.09" y="820.47" width="24.27" height="24.27"/><rect x="536.36" y="820.47" width="24.27" height="24.27"/><rect x="560.63" y="820.47" width="24.27" height="24.27"/><rect x="99.50" y="844.73" width="24.27" height="24.27"/><rect x="123.77" y="844.73" width="24.27" height="24.27"/><rect x="148.04" y="844.73" width="24.27" height="24.27"/><rect x="172.31" y="844.73" width="24.27" height="24.27"/><rect x="196.58" y="844.73" width="24.27" height="24.27"/><rect x="220.85" y="844.73" width="24.27" height="24.27"/><rect x="245.12" y="844.73" width="24.27" height="24.27"/><rect x="269.39" y="844.73" width="24.27" height="24.27"/><rect x="293.66" y="844.73" width="24.27" height="24.27"/><rect x="317.93" y="844.73" width="24.27" height="24.27"/><rect x="342.20" y="844.73" width="24.27" height="24.27"/><rect x="366.47" y="844.73" width="24.27" height="24.27"/><rect x="390.74" y="844.73" width="24.27" height="24.27"/><rect x="415.01" y="844.73" width="24.27" height="24.27"/><rect x="439.28" y="844.73" width="24.27" height="24.27"/><rect x="463.55" y="844.73" width="24.27" height="24.27"/><rect x="487.82" y="844.73" width="24.27" height="24.27"/><rect x="512.09" y="844.73" width="24.27" height="24.27"/><rect x="536.36" y="844.73" width="24.27" height="24.27"/></clipPath>
<g shape-rendering="crispEdges"><rect x="99.50" y="577.80" width="24.77" height="24.77" fill="#97181d"/><rect x="123.77" y="577.80" width="24.77" height="24.77" fill="#9a191e"/><rect x="148.04" y="577.80" width="24.77" height="24.77" fill="#9e1a1f"/><rect x="172.31" y="577.80" width="24.77" height="24.77" fill="#9e1a1f"/><rect x="196.58" y="577.80" width="24.77" height="24.77" fill="#9e1a1f"/><rect x="220.85" y="577.80" width="24.77" height="24.77" fill="#a71b21"/><rect x="245.12" y="577.80" width="24.77" height="24.77" fill="#af1d22"/><rect x="269.39" y="577.80" width="24.77" height="24.77" fill="#c92127"/><rect x="293.66" y="577.80" width="24.77" height="24.77" fill="#d8382c"/><rect x="317.93" y="577.80" width="24.77" height="24.77" fill="#e54f35"/><rect x="342.20" y="577.80" width="24.77" height="24.77" fill="#e65238"/><rect x="366.47" y="577.80" width="24.77" height="24.77" fill="#ea5d40"/><rect x="390.74" y="577.80" width="24.77" height="24.77" fill="#e9593d"/><rect x="415.01" y="577.80" width="24.77" height="24.77" fill="#ec6042"/><rect x="439.28" y="577.80" width="24.77" height="24.77" fill="#e8563a"/><rect x="463.55" y="577.80" width="24.77" height="24.77" fill="#ea5d40"/><rect x="487.82" y="577.80" width="24.77" height="24.77" fill="#e24830"/><rect x="512.09" y="577.80" width="24.77" height="24.77" fill="#e8563a"/><rect x="536.36" y="577.80" width="24.77" height="24.77" fill="#ef6847"/><rect x="560.63" y="577.80" width="24.77" height="24.77" fill="#f69663"/><rect x="584.90" y="577.80" width="24.77" height="24.77" fill="#f69c69"/><rect x="609.17" y="577.80" width="24.77" height="24.77" fill="#fac28c"/><rect x="633.44" y="577.80" width="24.77" height="24.77" fill="#fbce99"/><rect x="99.50" y="602.07" width="24.77" height="24.77" fill="#93181c"/><rect x="123.77" y="602.07" width="24.77" height="24.77" fill="#93181c"/><rect x="148.04" y="602.07" width="24.77" height="24.77" fill="#97181d"/><rect x="172.31" y="602.07" width="24.77" height="24.77" fill="#9a191e"/><rect x="196.58" y="602.07" width="24.77" height="24.77" fill="#9e1a1f"/><rect x="220.85" y="602.07" width="24.77" height="24.77" fill="#a71b21"/><rect x="245.12" y="602.07" width="24.77" height="24.77" fill="#c92127"/><rect x="269.39" y="602.07" width="24.77" height="24.77" fill="#dd402e"/><rect x="293.66" y="602.07" width="24.77" height="24.77" fill="#e65238"/><rect x="317.93" y="602.07" width="24.77" height="24.77" fill="#e65238"/><rect x="342.20" y="602.07" width="24.77" height="24.77" fill="#e9593d"/><rect x="366.47" y="602.07" width="24.77" height="24.77" fill="#e0442f"/><rect x="390.74" y="602.07" width="24.77" height="24.77" fill="#ea5d40"/><rect x="415.01" y="602.07" width="24.77" height="24.77" fill="#e9593d"/><rect x="439.28" y="602.07" width="24.77" height="24.77" fill="#e54f35"/><rect x="463.55" y="602.07" width="24.77" height="24.77" fill="#e24830"/><rect x="487.82" y="602.07" width="24.77" height="24.77" fill="#e8563a"/><rect x="512.09" y="602.07" width="24.77" height="24.77" fill="#f1724e"/><rect x="536.36" y="602.07" width="24.77" height="24.77" fill="#f58f5d"/><rect x="560.63" y="602.07" width="24.77" height="24.77" fill="#f69966"/><rect x="584.90" y="602.07" width="24.77" height="24.77" fill="#fcd29e"/><rect x="609.17" y="602.07" width="24.77" height="24.77" fill="#fcd3a0"/><rect x="633.44" y="602.07" width="24.77" height="24.77" fill="#fcd29e"/><rect x="99.50" y="626.33" width="24.77" height="24.77" fill="#90171b"/><rect x="123.77" y="626.33" width="24.77" height="24.77" fill="#93181c"/><rect x="148.04" y="626.33" width="24.77" height="24.77" fill="#93181c"/><rect x="172.31" y="626.33" width="24.77" height="24.77" fill="#9a191e"/><rect x="196.58" y="626.33" width="24.77" height="24.77" fill="#9e1a1f"/><rect x="220.85" y="626.33" width="24.77" height="24.77" fill="#c02025"/><rect x="245.12" y="626.33" width="24.77" height="24.77" fill="#ce2929"/><rect x="269.39" y="626.33" width="24.77" height="24.77" fill="#e8563a"/><rect x="293.66" y="626.33" width="24.77" height="24.77" fill="#e8563a"/><rect x="317.93" y="626.33" width="24.77" height="24.77" fill="#e9593d"/><rect x="342.20" y="626.33" width="24.77" height="24.77" fill="#e9593d"/><rect x="366.47" y="626.33" width="24.77" height="24.77" fill="#ea5d40"/><rect x="390.74" y="626.33" width="24.77" height="24.77" fill="#e0442f"/><rect x="415.01" y="626.33" width="24.77" height="24.77" fill="#e8563a"/><rect x="439.28" y="626.33" width="24.77" height="24.77" fill="#e34c33"/><rect x="463.55" y="626.33" width="24.77" height="24.77" fill="#ea5d40"/><rect x="487.82" y="626.33" width="24.77" height="24.77" fill="#f27650"/><rect x="512.09" y="626.33" width="24.77" height="24.77" fill="#f48859"/><rect x="536.36" y="626.33" width="24.77" height="24.77" fill="#f7a36e"/><rect x="560.63" y="626.33" width="24.77" height="24.77" fill="#fcd6a4"/><rect x="584.90" y="626.33" width="24.77" height="24.77" fill="#fcd6a4"/><rect x="609.17" y="626.33" width="24.77" height="24.77" fill="#fcd29e"/><rect x="633.44" y="626.33" width="24.77" height="24.77" fill="#fcd4a2"/><rect x="99.50" y="650.60" width="24.77" height="24.77" fill="#93181c"/><rect x="123.77" y="650.60" width="24.77" height="24.77" fill="#90171b"/><rect x="148.04" y="650.60" width="24.77" height="24.77" fill="#97181d"/><rect x="172.31" y="650.60" width="24.77" height="24.77" fill="#9e1a1f"/><rect x="196.58" y="650.60" width="24.77" height="24.77" fill="#c02025"/><rect x="220.85" y="650.60" width="24.77" height="24.77" fill="#d6342c"/><rect x="245.12" y="650.60" width="24.77" height="24.77" fill="#e9593d"/><rect x="269.39" y="650.60" width="24.77" height="24.77" fill="#e8563a"/><rect x="293.66" y="650.60" width="24.77" height="24.77" fill="#dd402e"/><rect x="317.93" y="650.60" width="24.77" height="24.77" fill="#dd402e"/><rect x="342.20" y="650.60" width="24.77" height="24.77" fill="#e9593d"/><rect x="366.47" y="650.60" width="24.77" height="24.77" fill="#e8563a"/><rect x="390.74" y="650.60" width="24.77" height="24.77" fill="#e24830"/><rect x="415.01" y="650.60" width="24.77" height="24.77" fill="#ea5d40"/><rect x="439.28" y="650.60" width="24.77" height="24.77" fill="#ec6042"/><rect x="463.55" y="650.60" width="24.77" height="24.77" fill="#f27650"/><rect x="487.82" y="650.60" width="24.77" height="24.77" fill="#f48859"/><rect x="512.09" y="650.60" width="24.77" height="24.77" fill="#f9b57f"/><rect x="536.36" y="650.60" width="24.77" height="24.77" fill="#fbcd97"/><rect x="560.63" y="650.60" width="24.77" height="24.77" fill="#fcd3a0"/><rect x="584.90" y="650.60" width="24.77" height="24.77" fill="#fbce99"/><rect x="609.17" y="650.60" width="24.77" height="24.77" fill="#fbce99"/><rect x="633.44" y="650.60" width="24.77" height="24.77" fill="#fbca93"/><rect x="99.50" y="674.87" width="24.77" height="24.77" fill="#97181d"/><rect x="123.77" y="674.87" width="24.77" height="24.77" fill="#93181c"/><rect x="148.04" y="674.87" width="24.77" height="24.77" fill="#9e1a1f"/><rect x="172.31" y="674.87" width="24.77" height="24.77" fill="#c02025"/><rect x="196.58" y="674.87" width="24.77" height="24.77" fill="#d6342c"/><rect x="220.85" y="674.87" width="24.77" height="24.77" fill="#e65238"/><rect x="245.12" y="674.87" width="24.77" height="24.77" fill="#ea5d40"/><rect x="269.39" y="674.87" width="24.77" height="24.77" fill="#e8563a"/><rect x="293.66" y="674.87" width="24.77" height="24.77" fill="#e0442f"/><rect x="317.93" y="674.87" width="24.77" height="24.77" fill="#e8563a"/><rect x="342.20" y="674.87" width="24.77" height="24.77" fill="#ea5d40"/><rect x="366.47" y="674.87" width="24.77" height="24.77" fill="#ea5d40"/><rect x="390.74" y="674.87" width="24.77" height="24.77" fill="#ea5d40"/><rect x="415.01" y="674.87" width="24.77" height="24.77" fill="#f27952"/><rect x="439.28" y="674.87" width="24.77" height="24.77" fill="#f58f5d"/><rect x="463.55" y="674.87" width="24.77" height="24.77" fill="#f27d53"/><rect x="487.82" y="674.87" width="24.77" height="24.77" fill="#f8b07a"/><rect x="512.09" y="674.87" width="24.77" height="24.77" fill="#fbd09b"/><rect x="536.36" y="674.87" width="24.77" height="24.77" fill="#fcd8a6"/><rect x="560.63" y="674.87" width="24.77" height="24.77" fill="#fcd6a4"/><rect x="584.90" y="674.87" width="24.77" height="24.77" fill="#fcd29e"/><rect x="609.17" y="674.87" width="24.77" height="24.77" fill="#fddeb3"/><rect x="633.44" y="674.87" width="24.77" height="24.77" fill="#fbca93"/><rect x="99.50" y="699.13" width="24.77" height="24.77" fill="#9a191e"/><rect x="123.77" y="699.13" width="24.77" height="24.77" fill="#9e1a1f"/><rect x="148.04" y="699.13" width="24.77" height="24.77" fill="#c02025"/><rect x="172.31" y="699.13" width="24.77" height="24.77" fill="#d8382c"/><rect x="196.58" y="699.13" width="24.77" height="24.77" fill="#e24830"/><rect x="220.85" y="699.13" width="24.77" height="24.77" fill="#e9593d"/><rect x="245.12" y="699.13" width="24.77" height="24.77" fill="#f06b4a"/><rect x="269.39" y="699.13" width="24.77" height="24.77" fill="#ed6445"/><rect x="293.66" y="699.13" width="24.77" height="24.77" fill="#e8563a"/><rect x="317.93" y="699.13" width="24.77" height="24.77" fill="#ec6042"/><rect x="342.20" y="699.13" width="24.77" height="24.77" fill="#f06b4a"/><rect x="366.47" y="699.13" width="24.77" height="24.77" fill="#f06b4a"/><rect x="390.74" y="699.13" width="24.77" height="24.77" fill="#f1724e"/><rect x="415.01" y="699.13" width="24.77" height="24.77" fill="#f58f5d"/><rect x="439.28" y="699.13" width="24.77" height="24.77" fill="#f58f5d"/><rect x="463.55" y="699.13" width="24.77" height="24.77" fill="#f8b07a"/><rect x="487.82" y="699.13" width="24.77" height="24.77" fill="#fbcd97"/><rect x="512.09" y="699.13" width="24.77" height="24.77" fill="#fcd3a0"/><rect x="536.36" y="699.13" width="24.77" height="24.77" fill="#fcd3a0"/><rect x="560.63" y="699.13" width="24.77" height="24.77" fill="#fbd09b"/><rect x="584.90" y="699.13" width="24.77" height="24.77" fill="#fbce99"/><rect x="609.17" y="699.13" width="24.77" height="24.77" fill="#fbd09b"/><rect x="633.44" y="699.13" width="24.77" height="24.77" fill="#fbd09b"/><rect x="99.50" y="723.40" width="24.77" height="24.77" fill="#9e1a1f"/><rect x="123.77" y="723.40" width="24.77" height="24.77" fill="#af1d22"/><rect x="148.04" y="723.40" width="24.77" height="24.77" fill="#c92127"/><rect x="172.31" y="723.40" width="24.77" height="24.77" fill="#e65238"/><rect x="196.58" y="723.40" width="24.77" height="24.77" fill="#e9593d"/><rect x="220.85" y="723.40" width="24.77" height="24.77" fill="#ed6445"/><rect x="245.12" y="723.40" width="24.77" height="24.77" fill="#ed6445"/><rect x="269.39" y="723.40" width="24.77" height="24.77" fill="#ed6445"/><rect x="293.66" y="723.40" width="24.77" height="24.77" fill="#e8563a"/><rect x="317.93" y="723.40" width="24.77" height="24.77" fill="#ed6445"/><rect x="342.20" y="723.40" width="24.77" height="24.77" fill="#f06b4a"/><rect x="366.47" y="723.40" width="24.77" height="24.77" fill="#f06b4a"/><rect x="390.74" y="723.40" width="24.77" height="24.77" fill="#f7a974"/><rect x="415.01" y="723.40" width="24.77" height="24.77" fill="#f7a974"/><rect x="439.28" y="723.40" width="24.77" height="24.77" fill="#f7a36e"/><rect x="463.55" y="723.40" width="24.77" height="24.77" fill="#fbca93"/><rect x="487.82" y="723.40" width="24.77" height="24.77" fill="#fbcd97"/><rect x="512.09" y="723.40" width="24.77" height="24.77" fill="#fbce99"/><rect x="536.36" y="723.40" width="24.77" height="24.77" fill="#fbca93"/><rect x="560.63" y="723.40" width="24.77" height="24.77" fill="#fbcd97"/><rect x="584.90" y="723.40" width="24.77" height="24.77" fill="#fbce99"/><rect x="609.17" y="723.40" width="24.77" height="24.77" fill="#fbcd97"/><rect x="633.44" y="723.40" width="24.77" height="24.77" fill="#fcddaf"/><rect x="99.50" y="747.67" width="24.77" height="24.77" fill="#97181d"/><rect x="123.77" y="747.67" width="24.77" height="24.77" fill="#af1d22"/><rect x="148.04" y="747.67" width="24.77" height="24.77" fill="#ce2929"/><rect x="172.31" y="747.67" width="24.77" height="24.77" fill="#e65238"/><rect x="196.58" y="747.67" width="24.77" height="24.77" fill="#ed6445"/><rect x="220.85" y="747.67" width="24.77" height="24.77" fill="#f1724e"/><rect x="245.12" y="747.67" width="24.77" height="24.77" fill="#f06b4a"/><rect x="269.39" y="747.67" width="24.77" height="24.77" fill="#f06b4a"/><rect x="293.66" y="747.67" width="24.77" height="24.77" fill="#ed6445"/><rect x="317.93" y="747.67" width="24.77" height="24.77" fill="#f06b4a"/><rect x="342.20" y="747.67" width="24.77" height="24.77" fill="#f27d53"/><rect x="366.47" y="747.67" width="24.77" height="24.77" fill="#f7a974"/><rect x="390.74" y="747.67" width="24.77" height="24.77" fill="#f7a974"/><rect x="415.01" y="747.67" width="24.77" height="24.77" fill="#f69c69"/><rect x="439.28" y="747.67" width="24.77" height="24.77" fill="#f69c69"/><rect x="463.55" y="747.67" width="24.77" height="24.77" fill="#fbcd97"/><rect x="487.82" y="747.67" width="24.77" height="24.77" fill="#f8b07a"/><rect x="512.09" y="747.67" width="24.77" height="24.77" fill="#f9ba84"/><rect x="536.36" y="747.67" width="24.77" height="24.77" fill="#fbce99"/><rect x="560.63" y="747.67" width="24.77" height="24.77" fill="#f9ba84"/><rect x="584.90" y="747.67" width="24.77" height="24.77" fill="#fac58e"/><rect x="609.17" y="747.67" width="24.77" height="24.77" fill="#fbca93"/><rect x="633.44" y="747.67" width="24.77" height="24.77" fill="#fbca93"/><rect x="99.50" y="771.93" width="24.77" height="24.77" fill="#9e1a1f"/><rect x="123.77" y="771.93" width="24.77" height="24.77" fill="#a71b21"/><rect x="148.04" y="771.93" width="24.77" height="24.77" fill="#b81e24"/><rect x="172.31" y="771.93" width="24.77" height="24.77" fill="#da3c2d"/><rect x="196.58" y="771.93" width="24.77" height="24.77" fill="#e24830"/><rect x="220.85" y="771.93" width="24.77" height="24.77" fill="#e54f35"/><rect x="245.12" y="771.93" width="24.77" height="24.77" fill="#dd402e"/><rect x="269.39" y="771.93" width="24.77" height="24.77" fill="#dd402e"/><rect x="293.66" y="771.93" width="24.77" height="24.77" fill="#dd402e"/><rect x="317.93" y="771.93" width="24.77" height="24.77" fill="#ea5d40"/><rect x="342.20" y="771.93" width="24.77" height="24.77" fill="#ed6445"/><rect x="366.47" y="771.93" width="24.77" height="24.77" fill="#f06b4a"/><rect x="390.74" y="771.93" width="24.77" height="24.77" fill="#e9593d"/><rect x="415.01" y="771.93" width="24.77" height="24.77" fill="#e9593d"/><rect x="439.28" y="771.93" width="24.77" height="24.77" fill="#f27952"/><rect x="463.55" y="771.93" width="24.77" height="24.77" fill="#f27d53"/><rect x="487.82" y="771.93" width="24.77" height="24.77" fill="#f27d53"/><rect x="512.09" y="771.93" width="24.77" height="24.77" fill="#f27d53"/><rect x="536.36" y="771.93" width="24.77" height="24.77" fill="#f38155"/><rect x="560.63" y="771.93" width="24.77" height="24.77" fill="#f69c69"/><rect x="584.90" y="771.93" width="24.77" height="24.77" fill="#f48859"/><rect x="609.17" y="771.93" width="24.77" height="24.77" fill="#f69c69"/><rect x="633.44" y="771.93" width="24.77" height="24.77" fill="#f69c69"/><rect x="99.50" y="796.20" width="24.77" height="24.77" fill="#97181d"/><rect x="123.77" y="796.20" width="24.77" height="24.77" fill="#9e1a1f"/><rect x="148.04" y="796.20" width="24.77" height="24.77" fill="#a21b20"/><rect x="172.31" y="796.20" width="24.77" height="24.77" fill="#af1d22"/><rect x="196.58" y="796.20" width="24.77" height="24.77" fill="#b81e24"/><rect x="220.85" y="796.20" width="24.77" height="24.77" fill="#b41e23"/><rect x="245.12" y="796.20" width="24.77" height="24.77" fill="#b41e23"/><rect x="269.39" y="796.20" width="24.77" height="24.77" fill="#bc1f25"/><rect x="293.66" y="796.20" width="24.77" height="24.77" fill="#c92127"/><rect x="317.93" y="796.20" width="24.77" height="24.77" fill="#ce2929"/><rect x="342.20" y="796.20" width="24.77" height="24.77" fill="#ce2929"/><rect x="366.47" y="796.20" width="24.77" height="24.77" fill="#ce2929"/><rect x="390.74" y="796.20" width="24.77" height="24.77" fill="#d6342c"/><rect x="415.01" y="796.20" width="24.77" height="24.77" fill="#dd402e"/><rect x="439.28" y="796.20" width="24.77" height="24.77" fill="#dd402e"/><rect x="463.55" y="796.20" width="24.77" height="24.77" fill="#ea5d40"/><rect x="487.82" y="796.20" width="24.77" height="24.77" fill="#f1724e"/><rect x="512.09" y="796.20" width="24.77" height="24.77" fill="#f27952"/><rect x="536.36" y="796.20" width="24.77" height="24.77" fill="#ea5d40"/><rect x="560.63" y="796.20" width="24.77" height="24.77" fill="#e8563a"/><rect x="584.90" y="796.20" width="24.77" height="24.77" fill="#f27d53"/><rect x="609.17" y="796.20" width="24.77" height="24.77" fill="#f38155"/><rect x="633.44" y="796.20" width="24.77" height="24.77" fill="#f9b57f"/><rect x="99.50" y="820.47" width="24.77" height="24.77" fill="#97181d"/><rect x="123.77" y="820.47" width="24.77" height="24.77" fill="#97181d"/><rect x="148.04" y="820.47" width="24.77" height="24.77" fill="#9e1a1f"/><rect x="172.31" y="820.47" width="24.77" height="24.77" fill="#ab1c21"/><rect x="196.58" y="820.47" width="24.77" height="24.77" fill="#b41e23"/><rect x="220.85" y="820.47" width="24.77" height="24.77" fill="#b41e23"/><rect x="245.12" y="820.47" width="24.77" height="24.77" fill="#ab1c21"/><rect x="269.39" y="820.47" width="24.77" height="24.77" fill="#c02025"/><rect x="293.66" y="820.47" width="24.77" height="24.77" fill="#c92127"/><rect x="317.93" y="820.47" width="24.77" height="24.77" fill="#d6342c"/><rect x="342.20" y="820.47" width="24.77" height="24.77" fill="#d3312b"/><rect x="366.47" y="820.47" width="24.77" height="24.77" fill="#d8382c"/><rect x="390.74" y="820.47" width="24.77" height="24.77" fill="#da3c2d"/><rect x="415.01" y="820.47" width="24.77" height="24.77" fill="#ea5d40"/><rect x="439.28" y="820.47" width="24.77" height="24.77" fill="#ed6445"/><rect x="463.55" y="820.47" width="24.77" height="24.77" fill="#f06b4a"/><rect x="487.82" y="820.47" width="24.77" height="24.77" fill="#ea5d40"/><rect x="512.09" y="820.47" width="24.77" height="24.77" fill="#dd402e"/><rect x="536.36" y="820.47" width="24.77" height="24.77" fill="#e54f35"/><rect x="560.63" y="820.47" width="24.77" height="24.77" fill="#f06b4a"/><rect x="584.90" y="820.47" width="24.77" height="24.77" fill="#f58f5d"/><rect x="609.17" y="820.47" width="24.77" height="24.77" fill="#f9b57f"/><rect x="633.44" y="820.47" width="24.77" height="24.77" fill="#f8b07a"/><rect x="99.50" y="844.73" width="24.77" height="24.77" fill="#97181d"/><rect x="123.77" y="844.73" width="24.77" height="24.77" fill="#9a191e"/><rect x="148.04" y="844.73" width="24.77" height="24.77" fill="#9e1a1f"/><rect x="172.31" y="844.73" width="24.77" height="24.77" fill="#a71b21"/><rect x="196.58" y="844.73" width="24.77" height="24.77" fill="#a21b20"/><rect x="220.85" y="844.73" width="24.77" height="24.77" fill="#a71b21"/><rect x="245.12" y="844.73" width="24.77" height="24.77" fill="#9a191e"/><rect x="269.39" y="844.73" width="24.77" height="24.77" fill="#bc1f25"/><rect x="293.66" y="844.73" width="24.77" height="24.77" fill="#c92127"/><rect x="317.93" y="844.73" width="24.77" height="24.77" fill="#dd402e"/><rect x="342.20" y="844.73" width="24.77" height="24.77" fill="#d3312b"/><rect x="366.47" y="844.73" width="24.77" height="24.77" fill="#d8382c"/><rect x="390.74" y="844.73" width="24.77" height="24.77" fill="#e24830"/><rect x="415.01" y="844.73" width="24.77" height="24.77" fill="#e8563a"/><rect x="439.28" y="844.73" width="24.77" height="24.77" fill="#ea5d40"/><rect x="463.55" y="844.73" width="24.77" height="24.77" fill="#e8563a"/><rect x="487.82" y="844.73" width="24.77" height="24.77" fill="#e54f35"/><rect x="512.09" y="844.73" width="24.77" height="24.77" fill="#e8563a"/><rect x="536.36" y="844.73" width="24.77" height="24.77" fill="#f06b4a"/><rect x="560.63" y="844.73" width="24.77" height="24.77" fill="#f7a36e"/><rect x="584.90" y="844.73" width="24.77" height="24.77" fill="#fac089"/><rect x="609.17" y="844.73" width="24.77" height="24.77" fill="#fac089"/><rect x="633.44" y="844.73" width="24.77" height="24.77" fill="#fbd09b"/></g>
<path clip-path="url(#hclip1)" d="M-222.89 871.00L72.31 575.80M-207.96 871.00L87.24 575.80M-193.03 871.00L102.17 575.80M-178.10 871.00L117.10 575.80M-163.17 871.00L132.03 575.80M-148.24 871.00L146.96 575.80M-133.31 871.00L161.89 575.80M-118.38 871.00L176.82 575.80M-103.45 871.00L191.75 575.80M-88.52 871.00L206.68 575.80M-73.59 871.00L221.61 575.80M-58.66 871.00L236.54 575.80M-43.73 871.00L251.47 575.80M-28.80 871.00L266.40 575.80M-13.87 871.00L281.33 575.80M1.06 871.00L296.26 575.80M15.99 871.00L311.19 575.80M30.92 871.00L326.12 575.80M45.85 871.00L341.05 575.80M60.78 871.00L355.98 575.80M75.71 871.00L370.91 575.80M90.64 871.00L385.84 575.80M105.57 871.00L400.77 575.80M120.50 871.00L415.70 575.80M135.43 871.00L430.63 575.80M150.36 871.00L445.56 575.80M165.29 871.00L460.49 575.80M180.22 871.00L475.42 575.80M195.15 871.00L490.35 575.80M210.08 871.00L505.28 575.80M225.01 871.00L520.21 575.80M239.94 871.00L535.14 575.80M254.87 871.00L550.07 575.80M269.80 871.00L565.00 575.80M284.73 871.00L579.93 575.80M299.66 871.00L594.86 575.80M314.59 871.00L609.79 575.80M329.52 871.00L624.72 575.80M344.45 871.00L639.65 575.80M359.38 871.00L654.58 575.80M374.31 871.00L669.51 575.80M389.24 871.00L684.44 575.80M404.17 871.00L699.37 575.80M419.10 871.00L714.30 575.80M434.03 871.00L729.23 575.80M448.96 871.00L744.16 575.80M463.89 871.00L759.09 575.80M478.82 871.00L774.02 575.80M493.75 871.00L788.95 575.80M508.68 871.00L803.88 575.80M523.61 871.00L818.81 575.80M538.54 871.00L833.74 575.80M553.47 871.00L848.67 575.80M568.40 871.00L863.60 575.80M583.33 871.00L878.53 575.80M598.26 871.00L893.46 575.80M613.19 871.00L908.39 575.80M628.12 871.00L923.32 575.80M643.05 871.00L938.25 575.80M657.98 871.00L953.18 575.80M672.91 871.00L968.11 575.80" stroke="#111" stroke-width="1.5" fill="none"/>
<path d="M99.50 589.93h5 M657.71 589.93h-5M99.50 614.20h5 M657.71 614.20h-5M99.50 638.47h5 M657.71 638.47h-5M99.50 662.73h5 M657.71 662.73h-5M99.50 687.00h5 M657.71 687.00h-5M99.50 711.27h5 M657.71 711.27h-5M99.50 735.53h5 M657.71 735.53h-5M99.50 759.80h5 M657.71 759.80h-5M99.50 784.07h5 M657.71 784.07h-5M99.50 808.33h5 M657.71 808.33h-5M99.50 832.60h5 M657.71 832.60h-5M99.50 856.87h5 M657.71 856.87h-5M111.64 869.00v-5M160.18 869.00v-5M208.72 869.00v-5M257.25 869.00v-5M305.79 869.00v-5M354.34 869.00v-5M402.88 869.00v-5M451.42 869.00v-5M499.95 869.00v-5M548.50 869.00v-5M597.03 869.00v-5M645.58 869.00v-5" stroke="#333" stroke-width="1.3" fill="none"/>
<rect x="99.50" y="577.8" width="558.21" height="291.20" fill="none" stroke="#0a0a0a" stroke-width="2"/>
<text x="87.30" y="596.53" font-family="'Liberation Sans', sans-serif" font-size="18.4" font-weight="normal" text-anchor="end" fill="#111" textLength="28.7" lengthAdjust="spacingAndGlyphs">DJF</text>
<text x="87.30" y="620.80" font-family="'Liberation Sans', sans-serif" font-size="18.4" font-weight="normal" text-anchor="end" fill="#111" textLength="32.3" lengthAdjust="spacingAndGlyphs">NDJ</text>
<text x="87.30" y="645.07" font-family="'Liberation Sans', sans-serif" font-size="18.4" font-weight="normal" text-anchor="end" fill="#111" textLength="41.2" lengthAdjust="spacingAndGlyphs">OND</text>
<text x="87.30" y="669.33" font-family="'Liberation Sans', sans-serif" font-size="18.4" font-weight="normal" text-anchor="end" fill="#111" textLength="38.5" lengthAdjust="spacingAndGlyphs">SON</text>
<text x="87.30" y="693.60" font-family="'Liberation Sans', sans-serif" font-size="18.4" font-weight="normal" text-anchor="end" fill="#111" textLength="37.9" lengthAdjust="spacingAndGlyphs">ASO</text>
<text x="87.30" y="717.87" font-family="'Liberation Sans', sans-serif" font-size="18.4" font-weight="normal" text-anchor="end" fill="#111" textLength="29" lengthAdjust="spacingAndGlyphs">JAS</text>
<text x="87.30" y="742.13" font-family="'Liberation Sans', sans-serif" font-size="18.4" font-weight="normal" text-anchor="end" fill="#111" textLength="22.8" lengthAdjust="spacingAndGlyphs">JJA</text>
<text x="87.30" y="766.40" font-family="'Liberation Sans', sans-serif" font-size="18.4" font-weight="normal" text-anchor="end" fill="#111" textLength="25.6" lengthAdjust="spacingAndGlyphs">MJJ</text>
<text x="87.30" y="790.67" font-family="'Liberation Sans', sans-serif" font-size="18.4" font-weight="normal" text-anchor="end" fill="#111" textLength="32.6" lengthAdjust="spacingAndGlyphs">AMJ</text>
<text x="87.30" y="814.93" font-family="'Liberation Sans', sans-serif" font-size="18.4" font-weight="normal" text-anchor="end" fill="#111" textLength="43" lengthAdjust="spacingAndGlyphs">MAM</text>
<text x="87.30" y="839.20" font-family="'Liberation Sans', sans-serif" font-size="18.4" font-weight="normal" text-anchor="end" fill="#111" textLength="37.9" lengthAdjust="spacingAndGlyphs">FMA</text>
<text x="87.30" y="863.47" font-family="'Liberation Sans', sans-serif" font-size="18.4" font-weight="normal" text-anchor="end" fill="#111" textLength="31.4" lengthAdjust="spacingAndGlyphs">JFM</text>
<text x="111.64" y="893.70" font-family="'Liberation Sans', sans-serif" font-size="18.3" font-weight="normal" text-anchor="middle" fill="#111" textLength="9.5" lengthAdjust="spacingAndGlyphs">1</text>
<text x="160.18" y="893.70" font-family="'Liberation Sans', sans-serif" font-size="18.3" font-weight="normal" text-anchor="middle" fill="#111" textLength="9.5" lengthAdjust="spacingAndGlyphs">3</text>
<text x="208.72" y="893.70" font-family="'Liberation Sans', sans-serif" font-size="18.3" font-weight="normal" text-anchor="middle" fill="#111" textLength="9.5" lengthAdjust="spacingAndGlyphs">5</text>
<text x="257.25" y="893.70" font-family="'Liberation Sans', sans-serif" font-size="18.3" font-weight="normal" text-anchor="middle" fill="#111" textLength="9.5" lengthAdjust="spacingAndGlyphs">7</text>
<text x="305.79" y="893.70" font-family="'Liberation Sans', sans-serif" font-size="18.3" font-weight="normal" text-anchor="middle" fill="#111" textLength="9.5" lengthAdjust="spacingAndGlyphs">9</text>
<text x="354.34" y="893.70" font-family="'Liberation Sans', sans-serif" font-size="18.3" font-weight="normal" text-anchor="middle" fill="#111" textLength="21" lengthAdjust="spacingAndGlyphs">11</text>
<text x="402.88" y="893.70" font-family="'Liberation Sans', sans-serif" font-size="18.3" font-weight="normal" text-anchor="middle" fill="#111" textLength="21" lengthAdjust="spacingAndGlyphs">13</text>
<text x="451.42" y="893.70" font-family="'Liberation Sans', sans-serif" font-size="18.3" font-weight="normal" text-anchor="middle" fill="#111" textLength="21" lengthAdjust="spacingAndGlyphs">15</text>
<text x="499.95" y="893.70" font-family="'Liberation Sans', sans-serif" font-size="18.3" font-weight="normal" text-anchor="middle" fill="#111" textLength="21" lengthAdjust="spacingAndGlyphs">17</text>
<text x="548.50" y="893.70" font-family="'Liberation Sans', sans-serif" font-size="18.3" font-weight="normal" text-anchor="middle" fill="#111" textLength="21" lengthAdjust="spacingAndGlyphs">19</text>
<text x="597.03" y="893.70" font-family="'Liberation Sans', sans-serif" font-size="18.3" font-weight="normal" text-anchor="middle" fill="#111" textLength="21" lengthAdjust="spacingAndGlyphs">21</text>
<text x="645.58" y="893.70" font-family="'Liberation Sans', sans-serif" font-size="18.3" font-weight="normal" text-anchor="middle" fill="#111" textLength="21" lengthAdjust="spacingAndGlyphs">23</text>
<text x="254.00" y="916.30" font-family="'Liberation Sans', sans-serif" font-size="19.8" font-weight="normal" text-anchor="start" fill="#111" textLength="249.5" lengthAdjust="spacingAndGlyphs">Forecast lead (months)</text>
<clipPath id="hclip2"><rect x="715.20" y="577.80" width="24.27" height="24.27"/><rect x="739.47" y="577.80" width="24.27" height="24.27"/><rect x="763.74" y="577.80" width="24.27" height="24.27"/><rect x="788.01" y="577.80" width="24.27" height="24.27"/><rect x="812.28" y="577.80" width="24.27" height="24.27"/><rect x="836.55" y="577.80" width="24.27" height="24.27"/><rect x="860.82" y="577.80" width="24.27" height="24.27"/><rect x="885.09" y="577.80" width="24.27" height="24.27"/><rect x="909.36" y="577.80" width="24.27" height="24.27"/><rect x="933.63" y="577.80" width="24.27" height="24.27"/><rect x="957.90" y="577.80" width="24.27" height="24.27"/><rect x="982.17" y="577.80" width="24.27" height="24.27"/><rect x="1006.44" y="577.80" width="24.27" height="24.27"/><rect x="1030.71" y="577.80" width="24.27" height="24.27"/><rect x="1054.98" y="577.80" width="24.27" height="24.27"/><rect x="1079.25" y="577.80" width="24.27" height="24.27"/><rect x="1103.52" y="577.80" width="24.27" height="24.27"/><rect x="1127.79" y="577.80" width="24.27" height="24.27"/><rect x="1152.06" y="577.80" width="24.27" height="24.27"/><rect x="1176.33" y="577.80" width="24.27" height="24.27"/><rect x="715.20" y="602.07" width="24.27" height="24.27"/><rect x="739.47" y="602.07" width="24.27" height="24.27"/><rect x="763.74" y="602.07" width="24.27" height="24.27"/><rect x="788.01" y="602.07" width="24.27" height="24.27"/><rect x="812.28" y="602.07" width="24.27" height="24.27"/><rect x="836.55" y="602.07" width="24.27" height="24.27"/><rect x="860.82" y="602.07" width="24.27" height="24.27"/><rect x="885.09" y="602.07" width="24.27" height="24.27"/><rect x="909.36" y="602.07" width="24.27" height="24.27"/><rect x="933.63" y="602.07" width="24.27" height="24.27"/><rect x="957.90" y="602.07" width="24.27" height="24.27"/><rect x="982.17" y="602.07" width="24.27" height="24.27"/><rect x="1006.44" y="602.07" width="24.27" height="24.27"/><rect x="1030.71" y="602.07" width="24.27" height="24.27"/><rect x="1054.98" y="602.07" width="24.27" height="24.27"/><rect x="1079.25" y="602.07" width="24.27" height="24.27"/><rect x="1103.52" y="602.07" width="24.27" height="24.27"/><rect x="1127.79" y="602.07" width="24.27" height="24.27"/><rect x="1152.06" y="602.07" width="24.27" height="24.27"/><rect x="715.20" y="626.33" width="24.27" height="24.27"/><rect x="739.47" y="626.33" width="24.27" height="24.27"/><rect x="763.74" y="626.33" width="24.27" height="24.27"/><rect x="788.01" y="626.33" width="24.27" height="24.27"/><rect x="812.28" y="626.33" width="24.27" height="24.27"/><rect x="836.55" y="626.33" width="24.27" height="24.27"/><rect x="860.82" y="626.33" width="24.27" height="24.27"/><rect x="885.09" y="626.33" width="24.27" height="24.27"/><rect x="909.36" y="626.33" width="24.27" height="24.27"/><rect x="933.63" y="626.33" width="24.27" height="24.27"/><rect x="957.90" y="626.33" width="24.27" height="24.27"/><rect x="982.17" y="626.33" width="24.27" height="24.27"/><rect x="1006.44" y="626.33" width="24.27" height="24.27"/><rect x="1030.71" y="626.33" width="24.27" height="24.27"/><rect x="1054.98" y="626.33" width="24.27" height="24.27"/><rect x="1079.25" y="626.33" width="24.27" height="24.27"/><rect x="1103.52" y="626.33" width="24.27" height="24.27"/><rect x="1127.79" y="626.33" width="24.27" height="24.27"/><rect x="715.20" y="650.60" width="24.27" height="24.27"/><rect x="739.47" y="650.60" width="24.27" height="24.27"/><rect x="763.74" y="650.60" width="24.27" height="24.27"/><rect x="788.01" y="650.60" width="24.27" height="24.27"/><rect x="812.28" y="650.60" width="24.27" height="24.27"/><rect x="836.55" y="650.60" width="24.27" height="24.27"/><rect x="860.82" y="650.60" width="24.27" height="24.27"/><rect x="885.09" y="650.60" width="24.27" height="24.27"/><rect x="909.36" y="650.60" width="24.27" height="24.27"/><rect x="933.63" y="650.60" width="24.27" height="24.27"/><rect x="957.90" y="650.60" width="24.27" height="24.27"/><rect x="982.17" y="650.60" width="24.27" height="24.27"/><rect x="1006.44" y="650.60" width="24.27" height="24.27"/><rect x="1030.71" y="650.60" width="24.27" height="24.27"/><rect x="1054.98" y="650.60" width="24.27" height="24.27"/><rect x="1079.25" y="650.60" width="24.27" height="24.27"/><rect x="1103.52" y="650.60" width="24.27" height="24.27"/><rect x="715.20" y="674.87" width="24.27" height="24.27"/><rect x="739.47" y="674.87" width="24.27" height="24.27"/><rect x="763.74" y="674.87" width="24.27" height="24.27"/><rect x="788.01" y="674.87" width="24.27" height="24.27"/><rect x="812.28" y="674.87" width="24.27" height="24.27"/><rect x="836.55" y="674.87" width="24.27" height="24.27"/><rect x="860.82" y="674.87" width="24.27" height="24.27"/><rect x="885.09" y="674.87" width="24.27" height="24.27"/><rect x="909.36" y="674.87" width="24.27" height="24.27"/><rect x="933.63" y="674.87" width="24.27" height="24.27"/><rect x="957.90" y="674.87" width="24.27" height="24.27"/><rect x="982.17" y="674.87" width="24.27" height="24.27"/><rect x="1006.44" y="674.87" width="24.27" height="24.27"/><rect x="1030.71" y="674.87" width="24.27" height="24.27"/><rect x="1054.98" y="674.87" width="24.27" height="24.27"/><rect x="1079.25" y="674.87" width="24.27" height="24.27"/><rect x="715.20" y="699.13" width="24.27" height="24.27"/><rect x="739.47" y="699.13" width="24.27" height="24.27"/><rect x="763.74" y="699.13" width="24.27" height="24.27"/><rect x="788.01" y="699.13" width="24.27" height="24.27"/><rect x="812.28" y="699.13" width="24.27" height="24.27"/><rect x="836.55" y="699.13" width="24.27" height="24.27"/><rect x="860.82" y="699.13" width="24.27" height="24.27"/><rect x="885.09" y="699.13" width="24.27" height="24.27"/><rect x="909.36" y="699.13" width="24.27" height="24.27"/><rect x="933.63" y="699.13" width="24.27" height="24.27"/><rect x="957.90" y="699.13" width="24.27" height="24.27"/><rect x="982.17" y="699.13" width="24.27" height="24.27"/><rect x="1006.44" y="699.13" width="24.27" height="24.27"/><rect x="1030.71" y="699.13" width="24.27" height="24.27"/><rect x="715.20" y="723.40" width="24.27" height="24.27"/><rect x="739.47" y="723.40" width="24.27" height="24.27"/><rect x="763.74" y="723.40" width="24.27" height="24.27"/><rect x="788.01" y="723.40" width="24.27" height="24.27"/><rect x="812.28" y="723.40" width="24.27" height="24.27"/><rect x="836.55" y="723.40" width="24.27" height="24.27"/><rect x="860.82" y="723.40" width="24.27" height="24.27"/><rect x="885.09" y="723.40" width="24.27" height="24.27"/><rect x="909.36" y="723.40" width="24.27" height="24.27"/><rect x="933.63" y="723.40" width="24.27" height="24.27"/><rect x="957.90" y="723.40" width="24.27" height="24.27"/><rect x="982.17" y="723.40" width="24.27" height="24.27"/><rect x="1006.44" y="723.40" width="24.27" height="24.27"/><rect x="715.20" y="747.67" width="24.27" height="24.27"/><rect x="739.47" y="747.67" width="24.27" height="24.27"/><rect x="763.74" y="747.67" width="24.27" height="24.27"/><rect x="788.01" y="747.67" width="24.27" height="24.27"/><rect x="812.28" y="747.67" width="24.27" height="24.27"/><rect x="836.55" y="747.67" width="24.27" height="24.27"/><rect x="860.82" y="747.67" width="24.27" height="24.27"/><rect x="885.09" y="747.67" width="24.27" height="24.27"/><rect x="909.36" y="747.67" width="24.27" height="24.27"/><rect x="933.63" y="747.67" width="24.27" height="24.27"/><rect x="957.90" y="747.67" width="24.27" height="24.27"/><rect x="982.17" y="747.67" width="24.27" height="24.27"/><rect x="1006.44" y="747.67" width="24.27" height="24.27"/><rect x="1030.71" y="747.67" width="24.27" height="24.27"/><rect x="1054.98" y="747.67" width="24.27" height="24.27"/><rect x="715.20" y="771.93" width="24.27" height="24.27"/><rect x="739.47" y="771.93" width="24.27" height="24.27"/><rect x="763.74" y="771.93" width="24.27" height="24.27"/><rect x="788.01" y="771.93" width="24.27" height="24.27"/><rect x="812.28" y="771.93" width="24.27" height="24.27"/><rect x="836.55" y="771.93" width="24.27" height="24.27"/><rect x="860.82" y="771.93" width="24.27" height="24.27"/><rect x="885.09" y="771.93" width="24.27" height="24.27"/><rect x="909.36" y="771.93" width="24.27" height="24.27"/><rect x="933.63" y="771.93" width="24.27" height="24.27"/><rect x="957.90" y="771.93" width="24.27" height="24.27"/><rect x="982.17" y="771.93" width="24.27" height="24.27"/><rect x="1006.44" y="771.93" width="24.27" height="24.27"/><rect x="1030.71" y="771.93" width="24.27" height="24.27"/><rect x="1054.98" y="771.93" width="24.27" height="24.27"/><rect x="1079.25" y="771.93" width="24.27" height="24.27"/><rect x="1103.52" y="771.93" width="24.27" height="24.27"/><rect x="1127.79" y="771.93" width="24.27" height="24.27"/><rect x="1152.06" y="771.93" width="24.27" height="24.27"/><rect x="1176.33" y="771.93" width="24.27" height="24.27"/><rect x="715.20" y="796.20" width="24.27" height="24.27"/><rect x="739.47" y="796.20" width="24.27" height="24.27"/><rect x="763.74" y="796.20" width="24.27" height="24.27"/><rect x="788.01" y="796.20" width="24.27" height="24.27"/><rect x="812.28" y="796.20" width="24.27" height="24.27"/><rect x="836.55" y="796.20" width="24.27" height="24.27"/><rect x="860.82" y="796.20" width="24.27" height="24.27"/><rect x="885.09" y="796.20" width="24.27" height="24.27"/><rect x="909.36" y="796.20" width="24.27" height="24.27"/><rect x="933.63" y="796.20" width="24.27" height="24.27"/><rect x="957.90" y="796.20" width="24.27" height="24.27"/><rect x="982.17" y="796.20" width="24.27" height="24.27"/><rect x="1006.44" y="796.20" width="24.27" height="24.27"/><rect x="1030.71" y="796.20" width="24.27" height="24.27"/><rect x="1054.98" y="796.20" width="24.27" height="24.27"/><rect x="1079.25" y="796.20" width="24.27" height="24.27"/><rect x="1103.52" y="796.20" width="24.27" height="24.27"/><rect x="1127.79" y="796.20" width="24.27" height="24.27"/><rect x="1152.06" y="796.20" width="24.27" height="24.27"/><rect x="1176.33" y="796.20" width="24.27" height="24.27"/><rect x="1200.60" y="796.20" width="24.27" height="24.27"/><rect x="1224.87" y="796.20" width="24.27" height="24.27"/><rect x="1249.14" y="796.20" width="24.27" height="24.27"/><rect x="715.20" y="820.47" width="24.27" height="24.27"/><rect x="739.47" y="820.47" width="24.27" height="24.27"/><rect x="763.74" y="820.47" width="24.27" height="24.27"/><rect x="788.01" y="820.47" width="24.27" height="24.27"/><rect x="812.28" y="820.47" width="24.27" height="24.27"/><rect x="836.55" y="820.47" width="24.27" height="24.27"/><rect x="860.82" y="820.47" width="24.27" height="24.27"/><rect x="885.09" y="820.47" width="24.27" height="24.27"/><rect x="909.36" y="820.47" width="24.27" height="24.27"/><rect x="933.63" y="820.47" width="24.27" height="24.27"/><rect x="957.90" y="820.47" width="24.27" height="24.27"/><rect x="982.17" y="820.47" width="24.27" height="24.27"/><rect x="1006.44" y="820.47" width="24.27" height="24.27"/><rect x="1030.71" y="820.47" width="24.27" height="24.27"/><rect x="1054.98" y="820.47" width="24.27" height="24.27"/><rect x="1079.25" y="820.47" width="24.27" height="24.27"/><rect x="1103.52" y="820.47" width="24.27" height="24.27"/><rect x="1127.79" y="820.47" width="24.27" height="24.27"/><rect x="1152.06" y="820.47" width="24.27" height="24.27"/><rect x="1176.33" y="820.47" width="24.27" height="24.27"/><rect x="1200.60" y="820.47" width="24.27" height="24.27"/><rect x="1224.87" y="820.47" width="24.27" height="24.27"/><rect x="715.20" y="844.73" width="24.27" height="24.27"/><rect x="739.47" y="844.73" width="24.27" height="24.27"/><rect x="763.74" y="844.73" width="24.27" height="24.27"/><rect x="788.01" y="844.73" width="24.27" height="24.27"/><rect x="812.28" y="844.73" width="24.27" height="24.27"/><rect x="836.55" y="844.73" width="24.27" height="24.27"/><rect x="860.82" y="844.73" width="24.27" height="24.27"/><rect x="885.09" y="844.73" width="24.27" height="24.27"/><rect x="909.36" y="844.73" width="24.27" height="24.27"/><rect x="933.63" y="844.73" width="24.27" height="24.27"/><rect x="957.90" y="844.73" width="24.27" height="24.27"/><rect x="982.17" y="844.73" width="24.27" height="24.27"/><rect x="1006.44" y="844.73" width="24.27" height="24.27"/><rect x="1030.71" y="844.73" width="24.27" height="24.27"/><rect x="1054.98" y="844.73" width="24.27" height="24.27"/><rect x="1079.25" y="844.73" width="24.27" height="24.27"/><rect x="1103.52" y="844.73" width="24.27" height="24.27"/><rect x="1127.79" y="844.73" width="24.27" height="24.27"/><rect x="1152.06" y="844.73" width="24.27" height="24.27"/><rect x="1176.33" y="844.73" width="24.27" height="24.27"/><rect x="1200.60" y="844.73" width="24.27" height="24.27"/></clipPath>
<g shape-rendering="crispEdges"><rect x="715.20" y="577.80" width="24.77" height="24.77" fill="#811417"/><rect x="739.47" y="577.80" width="24.77" height="24.77" fill="#881519"/><rect x="763.74" y="577.80" width="24.77" height="24.77" fill="#90171b"/><rect x="788.01" y="577.80" width="24.77" height="24.77" fill="#93181c"/><rect x="812.28" y="577.80" width="24.77" height="24.77" fill="#97181d"/><rect x="836.55" y="577.80" width="24.77" height="24.77" fill="#97181d"/><rect x="860.82" y="577.80" width="24.77" height="24.77" fill="#9e1a1f"/><rect x="885.09" y="577.80" width="24.77" height="24.77" fill="#b41e23"/><rect x="909.36" y="577.80" width="24.77" height="24.77" fill="#c92127"/><rect x="933.63" y="577.80" width="24.77" height="24.77" fill="#ce2929"/><rect x="957.90" y="577.80" width="24.77" height="24.77" fill="#ce2929"/><rect x="982.17" y="577.80" width="24.77" height="24.77" fill="#e54f35"/><rect x="1006.44" y="577.80" width="24.77" height="24.77" fill="#e54f35"/><rect x="1030.71" y="577.80" width="24.77" height="24.77" fill="#e8563a"/><rect x="1054.98" y="577.80" width="24.77" height="24.77" fill="#e8563a"/><rect x="1079.25" y="577.80" width="24.77" height="24.77" fill="#ea5d40"/><rect x="1103.52" y="577.80" width="24.77" height="24.77" fill="#e8563a"/><rect x="1127.79" y="577.80" width="24.77" height="24.77" fill="#e24830"/><rect x="1152.06" y="577.80" width="24.77" height="24.77" fill="#ea5d40"/><rect x="1176.33" y="577.80" width="24.77" height="24.77" fill="#f27d53"/><rect x="1200.60" y="577.80" width="24.77" height="24.77" fill="#f9ba84"/><rect x="1224.87" y="577.80" width="24.77" height="24.77" fill="#fcd3a0"/><rect x="1249.14" y="577.80" width="24.77" height="24.77" fill="#fbca93"/><rect x="715.20" y="602.07" width="24.77" height="24.77" fill="#851418"/><rect x="739.47" y="602.07" width="24.77" height="24.77" fill="#881519"/><rect x="763.74" y="602.07" width="24.77" height="24.77" fill="#8c161a"/><rect x="788.01" y="602.07" width="24.77" height="24.77" fill="#93181c"/><rect x="812.28" y="602.07" width="24.77" height="24.77" fill="#97181d"/><rect x="836.55" y="602.07" width="24.77" height="24.77" fill="#97181d"/><rect x="860.82" y="602.07" width="24.77" height="24.77" fill="#a71b21"/><rect x="885.09" y="602.07" width="24.77" height="24.77" fill="#c02025"/><rect x="909.36" y="602.07" width="24.77" height="24.77" fill="#cc2528"/><rect x="933.63" y="602.07" width="24.77" height="24.77" fill="#d02d2a"/><rect x="957.90" y="602.07" width="24.77" height="24.77" fill="#e54f35"/><rect x="982.17" y="602.07" width="24.77" height="24.77" fill="#e24830"/><rect x="1006.44" y="602.07" width="24.77" height="24.77" fill="#e24830"/><rect x="1030.71" y="602.07" width="24.77" height="24.77" fill="#e54f35"/><rect x="1054.98" y="602.07" width="24.77" height="24.77" fill="#dd402e"/><rect x="1079.25" y="602.07" width="24.77" height="24.77" fill="#dd402e"/><rect x="1103.52" y="602.07" width="24.77" height="24.77" fill="#d8382c"/><rect x="1127.79" y="602.07" width="24.77" height="24.77" fill="#e8563a"/><rect x="1152.06" y="602.07" width="24.77" height="24.77" fill="#f27d53"/><rect x="1176.33" y="602.07" width="24.77" height="24.77" fill="#f8b07a"/><rect x="1200.60" y="602.07" width="24.77" height="24.77" fill="#fcd29e"/><rect x="1224.87" y="602.07" width="24.77" height="24.77" fill="#fbcd97"/><rect x="1249.14" y="602.07" width="24.77" height="24.77" fill="#fac58e"/><rect x="715.20" y="626.33" width="24.77" height="24.77" fill="#851418"/><rect x="739.47" y="626.33" width="24.77" height="24.77" fill="#8c161a"/><rect x="763.74" y="626.33" width="24.77" height="24.77" fill="#8c161a"/><rect x="788.01" y="626.33" width="24.77" height="24.77" fill="#93181c"/><rect x="812.28" y="626.33" width="24.77" height="24.77" fill="#97181d"/><rect x="836.55" y="626.33" width="24.77" height="24.77" fill="#a71b21"/><rect x="860.82" y="626.33" width="24.77" height="24.77" fill="#b81e24"/><rect x="885.09" y="626.33" width="24.77" height="24.77" fill="#c02025"/><rect x="909.36" y="626.33" width="24.77" height="24.77" fill="#ce2929"/><rect x="933.63" y="626.33" width="24.77" height="24.77" fill="#e54f35"/><rect x="957.90" y="626.33" width="24.77" height="24.77" fill="#dd402e"/><rect x="982.17" y="626.33" width="24.77" height="24.77" fill="#e24830"/><rect x="1006.44" y="626.33" width="24.77" height="24.77" fill="#e54f35"/><rect x="1030.71" y="626.33" width="24.77" height="24.77" fill="#e24830"/><rect x="1054.98" y="626.33" width="24.77" height="24.77" fill="#dd402e"/><rect x="1079.25" y="626.33" width="24.77" height="24.77" fill="#d8382c"/><rect x="1103.52" y="626.33" width="24.77" height="24.77" fill="#e8563a"/><rect x="1127.79" y="626.33" width="24.77" height="24.77" fill="#f27d53"/><rect x="1152.06" y="626.33" width="24.77" height="24.77" fill="#f8b07a"/><rect x="1176.33" y="626.33" width="24.77" height="24.77" fill="#fbd09b"/><rect x="1200.60" y="626.33" width="24.77" height="24.77" fill="#fbca93"/><rect x="1224.87" y="626.33" width="24.77" height="24.77" fill="#fac089"/><rect x="1249.14" y="626.33" width="24.77" height="24.77" fill="#f7a36e"/><rect x="715.20" y="650.60" width="24.77" height="24.77" fill="#881519"/><rect x="739.47" y="650.60" width="24.77" height="24.77" fill="#8c161a"/><rect x="763.74" y="650.60" width="24.77" height="24.77" fill="#93181c"/><rect x="788.01" y="650.60" width="24.77" height="24.77" fill="#9a191e"/><rect x="812.28" y="650.60" width="24.77" height="24.77" fill="#b41e23"/><rect x="836.55" y="650.60" width="24.77" height="24.77" fill="#b81e24"/><rect x="860.82" y="650.60" width="24.77" height="24.77" fill="#c02025"/><rect x="885.09" y="650.60" width="24.77" height="24.77" fill="#c92127"/><rect x="909.36" y="650.60" width="24.77" height="24.77" fill="#e54f35"/><rect x="933.63" y="650.60" width="24.77" height="24.77" fill="#e24830"/><rect x="957.90" y="650.60" width="24.77" height="24.77" fill="#e24830"/><rect x="982.17" y="650.60" width="24.77" height="24.77" fill="#e54f35"/><rect x="1006.44" y="650.60" width="24.77" height="24.77" fill="#e54f35"/><rect x="1030.71" y="650.60" width="24.77" height="24.77" fill="#e54f35"/><rect x="1054.98" y="650.60" width="24.77" height="24.77" fill="#dd402e"/><rect x="1079.25" y="650.60" width="24.77" height="24.77" fill="#e8563a"/><rect x="1103.52" y="650.60" width="24.77" height="24.77" fill="#f27952"/><rect x="1127.79" y="650.60" width="24.77" height="24.77" fill="#f7a974"/><rect x="1152.06" y="650.60" width="24.77" height="24.77" fill="#fac58e"/><rect x="1176.33" y="650.60" width="24.77" height="24.77" fill="#fac089"/><rect x="1200.60" y="650.60" width="24.77" height="24.77" fill="#f9ba84"/><rect x="1224.87" y="650.60" width="24.77" height="24.77" fill="#f69c69"/><rect x="1249.14" y="650.60" width="24.77" height="24.77" fill="#f58f5d"/><rect x="715.20" y="674.87" width="24.77" height="24.77" fill="#881519"/><rect x="739.47" y="674.87" width="24.77" height="24.77" fill="#90171b"/><rect x="763.74" y="674.87" width="24.77" height="24.77" fill="#9a191e"/><rect x="788.01" y="674.87" width="24.77" height="24.77" fill="#a71b21"/><rect x="812.28" y="674.87" width="24.77" height="24.77" fill="#bc1f25"/><rect x="836.55" y="674.87" width="24.77" height="24.77" fill="#c92127"/><rect x="860.82" y="674.87" width="24.77" height="24.77" fill="#c92127"/><rect x="885.09" y="674.87" width="24.77" height="24.77" fill="#e24830"/><rect x="909.36" y="674.87" width="24.77" height="24.77" fill="#e54f35"/><rect x="933.63" y="674.87" width="24.77" height="24.77" fill="#e24830"/><rect x="957.90" y="674.87" width="24.77" height="24.77" fill="#e24830"/><rect x="982.17" y="674.87" width="24.77" height="24.77" fill="#e8563a"/><rect x="1006.44" y="674.87" width="24.77" height="24.77" fill="#e54f35"/><rect x="1030.71" y="674.87" width="24.77" height="24.77" fill="#e8563a"/><rect x="1054.98" y="674.87" width="24.77" height="24.77" fill="#ea5d40"/><rect x="1079.25" y="674.87" width="24.77" height="24.77" fill="#f38155"/><rect x="1103.52" y="674.87" width="24.77" height="24.77" fill="#f8b07a"/><rect x="1127.79" y="674.87" width="24.77" height="24.77" fill="#fac58e"/><rect x="1152.06" y="674.87" width="24.77" height="24.77" fill="#fac58e"/><rect x="1176.33" y="674.87" width="24.77" height="24.77" fill="#f9ba84"/><rect x="1200.60" y="674.87" width="24.77" height="24.77" fill="#f8b07a"/><rect x="1224.87" y="674.87" width="24.77" height="24.77" fill="#f7a36e"/><rect x="1249.14" y="674.87" width="24.77" height="24.77" fill="#f8b07a"/><rect x="715.20" y="699.13" width="24.77" height="24.77" fill="#8c161a"/><rect x="739.47" y="699.13" width="24.77" height="24.77" fill="#97181d"/><rect x="763.74" y="699.13" width="24.77" height="24.77" fill="#b41e23"/><rect x="788.01" y="699.13" width="24.77" height="24.77" fill="#c02025"/><rect x="812.28" y="699.13" width="24.77" height="24.77" fill="#ce2929"/><rect x="836.55" y="699.13" width="24.77" height="24.77" fill="#d3312b"/><rect x="860.82" y="699.13" width="24.77" height="24.77" fill="#e65238"/><rect x="885.09" y="699.13" width="24.77" height="24.77" fill="#e24830"/><rect x="909.36" y="699.13" width="24.77" height="24.77" fill="#e8563a"/><rect x="933.63" y="699.13" width="24.77" height="24.77" fill="#ea5d40"/><rect x="957.90" y="699.13" width="24.77" height="24.77" fill="#ea5d40"/><rect x="982.17" y="699.13" width="24.77" height="24.77" fill="#ed6445"/><rect x="1006.44" y="699.13" width="24.77" height="24.77" fill="#ed6445"/><rect x="1030.71" y="699.13" width="24.77" height="24.77" fill="#ed6445"/><rect x="1054.98" y="699.13" width="24.77" height="24.77" fill="#f58f5d"/><rect x="1079.25" y="699.13" width="24.77" height="24.77" fill="#f9ba84"/><rect x="1103.52" y="699.13" width="24.77" height="24.77" fill="#fbca93"/><rect x="1127.79" y="699.13" width="24.77" height="24.77" fill="#fac58e"/><rect x="1152.06" y="699.13" width="24.77" height="24.77" fill="#fac58e"/><rect x="1176.33" y="699.13" width="24.77" height="24.77" fill="#f9b57f"/><rect x="1200.60" y="699.13" width="24.77" height="24.77" fill="#f9b57f"/><rect x="1224.87" y="699.13" width="24.77" height="24.77" fill="#f9b57f"/><rect x="1249.14" y="699.13" width="24.77" height="24.77" fill="#f9b57f"/><rect x="715.20" y="723.40" width="24.77" height="24.77" fill="#90171b"/><rect x="739.47" y="723.40" width="24.77" height="24.77" fill="#a71b21"/><rect x="763.74" y="723.40" width="24.77" height="24.77" fill="#c02025"/><rect x="788.01" y="723.40" width="24.77" height="24.77" fill="#ce2929"/><rect x="812.28" y="723.40" width="24.77" height="24.77" fill="#d8382c"/><rect x="836.55" y="723.40" width="24.77" height="24.77" fill="#e8563a"/><rect x="860.82" y="723.40" width="24.77" height="24.77" fill="#e24830"/><rect x="885.09" y="723.40" width="24.77" height="24.77" fill="#dd402e"/><rect x="909.36" y="723.40" width="24.77" height="24.77" fill="#ea5d40"/><rect x="933.63" y="723.40" width="24.77" height="24.77" fill="#f06b4a"/><rect x="957.90" y="723.40" width="24.77" height="24.77" fill="#f1724e"/><rect x="982.17" y="723.40" width="24.77" height="24.77" fill="#f1724e"/><rect x="1006.44" y="723.40" width="24.77" height="24.77" fill="#f1724e"/><rect x="1030.71" y="723.40" width="24.77" height="24.77" fill="#f48859"/><rect x="1054.98" y="723.40" width="24.77" height="24.77" fill="#f7a36e"/><rect x="1079.25" y="723.40" width="24.77" height="24.77" fill="#f9ba84"/><rect x="1103.52" y="723.40" width="24.77" height="24.77" fill="#fac089"/><rect x="1127.79" y="723.40" width="24.77" height="24.77" fill="#f9ba84"/><rect x="1152.06" y="723.40" width="24.77" height="24.77" fill="#f9ba84"/><rect x="1176.33" y="723.40" width="24.77" height="24.77" fill="#f8b07a"/><rect x="1200.60" y="723.40" width="24.77" height="24.77" fill="#f9b57f"/><rect x="1224.87" y="723.40" width="24.77" height="24.77" fill="#f9b57f"/><rect x="1249.14" y="723.40" width="24.77" height="24.77" fill="#f9ba84"/><rect x="715.20" y="747.67" width="24.77" height="24.77" fill="#97181d"/><rect x="739.47" y="747.67" width="24.77" height="24.77" fill="#b41e23"/><rect x="763.74" y="747.67" width="24.77" height="24.77" fill="#c92127"/><rect x="788.01" y="747.67" width="24.77" height="24.77" fill="#d8382c"/><rect x="812.28" y="747.67" width="24.77" height="24.77" fill="#e54f35"/><rect x="836.55" y="747.67" width="24.77" height="24.77" fill="#e8563a"/><rect x="860.82" y="747.67" width="24.77" height="24.77" fill="#e8563a"/><rect x="885.09" y="747.67" width="24.77" height="24.77" fill="#ed6445"/><rect x="909.36" y="747.67" width="24.77" height="24.77" fill="#f27d53"/><rect x="933.63" y="747.67" width="24.77" height="24.77" fill="#f27d53"/><rect x="957.90" y="747.67" width="24.77" height="24.77" fill="#f1724e"/><rect x="982.17" y="747.67" width="24.77" height="24.77" fill="#f06b4a"/><rect x="1006.44" y="747.67" width="24.77" height="24.77" fill="#f06b4a"/><rect x="1030.71" y="747.67" width="24.77" height="24.77" fill="#f1724e"/><rect x="1054.98" y="747.67" width="24.77" height="24.77" fill="#f48859"/><rect x="1079.25" y="747.67" width="24.77" height="24.77" fill="#f7a671"/><rect x="1103.52" y="747.67" width="24.77" height="24.77" fill="#f7a671"/><rect x="1127.79" y="747.67" width="24.77" height="24.77" fill="#f7a671"/><rect x="1152.06" y="747.67" width="24.77" height="24.77" fill="#f7a671"/><rect x="1176.33" y="747.67" width="24.77" height="24.77" fill="#f7a671"/><rect x="1200.60" y="747.67" width="24.77" height="24.77" fill="#f7a671"/><rect x="1224.87" y="747.67" width="24.77" height="24.77" fill="#fac089"/><rect x="1249.14" y="747.67" width="24.77" height="24.77" fill="#fac089"/><rect x="715.20" y="771.93" width="24.77" height="24.77" fill="#97181d"/><rect x="739.47" y="771.93" width="24.77" height="24.77" fill="#a71b21"/><rect x="763.74" y="771.93" width="24.77" height="24.77" fill="#b81e24"/><rect x="788.01" y="771.93" width="24.77" height="24.77" fill="#c92127"/><rect x="812.28" y="771.93" width="24.77" height="24.77" fill="#ce2929"/><rect x="836.55" y="771.93" width="24.77" height="24.77" fill="#d8382c"/><rect x="860.82" y="771.93" width="24.77" height="24.77" fill="#dd402e"/><rect x="885.09" y="771.93" width="24.77" height="24.77" fill="#e24830"/><rect x="909.36" y="771.93" width="24.77" height="24.77" fill="#ed6445"/><rect x="933.63" y="771.93" width="24.77" height="24.77" fill="#ea5d40"/><rect x="957.90" y="771.93" width="24.77" height="24.77" fill="#e8563a"/><rect x="982.17" y="771.93" width="24.77" height="24.77" fill="#dd402e"/><rect x="1006.44" y="771.93" width="24.77" height="24.77" fill="#d8382c"/><rect x="1030.71" y="771.93" width="24.77" height="24.77" fill="#dd402e"/><rect x="1054.98" y="771.93" width="24.77" height="24.77" fill="#ed6445"/><rect x="1079.25" y="771.93" width="24.77" height="24.77" fill="#f1724e"/><rect x="1103.52" y="771.93" width="24.77" height="24.77" fill="#f27952"/><rect x="1127.79" y="771.93" width="24.77" height="24.77" fill="#f27952"/><rect x="1152.06" y="771.93" width="24.77" height="24.77" fill="#f27952"/><rect x="1176.33" y="771.93" width="24.77" height="24.77" fill="#f1724e"/><rect x="1200.60" y="771.93" width="24.77" height="24.77" fill="#f69663"/><rect x="1224.87" y="771.93" width="24.77" height="24.77" fill="#f58f5d"/><rect x="1249.14" y="771.93" width="24.77" height="24.77" fill="#f58f5d"/><rect x="715.20" y="796.20" width="24.77" height="24.77" fill="#97181d"/><rect x="739.47" y="796.20" width="24.77" height="24.77" fill="#9e1a1f"/><rect x="763.74" y="796.20" width="24.77" height="24.77" fill="#a71b21"/><rect x="788.01" y="796.20" width="24.77" height="24.77" fill="#b81e24"/><rect x="812.28" y="796.20" width="24.77" height="24.77" fill="#c02025"/><rect x="836.55" y="796.20" width="24.77" height="24.77" fill="#c02025"/><rect x="860.82" y="796.20" width="24.77" height="24.77" fill="#c02025"/><rect x="885.09" y="796.20" width="24.77" height="24.77" fill="#d3312b"/><rect x="909.36" y="796.20" width="24.77" height="24.77" fill="#c92127"/><rect x="933.63" y="796.20" width="24.77" height="24.77" fill="#c92127"/><rect x="957.90" y="796.20" width="24.77" height="24.77" fill="#c92127"/><rect x="982.17" y="796.20" width="24.77" height="24.77" fill="#c92127"/><rect x="1006.44" y="796.20" width="24.77" height="24.77" fill="#d3312b"/><rect x="1030.71" y="796.20" width="24.77" height="24.77" fill="#e54f35"/><rect x="1054.98" y="796.20" width="24.77" height="24.77" fill="#f27650"/><rect x="1079.25" y="796.20" width="24.77" height="24.77" fill="#f27650"/><rect x="1103.52" y="796.20" width="24.77" height="24.77" fill="#f27d54"/><rect x="1127.79" y="796.20" width="24.77" height="24.77" fill="#f27650"/><rect x="1152.06" y="796.20" width="24.77" height="24.77" fill="#f27650"/><rect x="1176.33" y="796.20" width="24.77" height="24.77" fill="#f48457"/><rect x="1200.60" y="796.20" width="24.77" height="24.77" fill="#f48457"/><rect x="1224.87" y="796.20" width="24.77" height="24.77" fill="#f27952"/><rect x="1249.14" y="796.20" width="24.77" height="24.77" fill="#f27952"/><rect x="715.20" y="820.47" width="24.77" height="24.77" fill="#97181d"/><rect x="739.47" y="820.47" width="24.77" height="24.77" fill="#9a191e"/><rect x="763.74" y="820.47" width="24.77" height="24.77" fill="#9e1a1f"/><rect x="788.01" y="820.47" width="24.77" height="24.77" fill="#9e1a1f"/><rect x="812.28" y="820.47" width="24.77" height="24.77" fill="#a71b21"/><rect x="836.55" y="820.47" width="24.77" height="24.77" fill="#a71b21"/><rect x="860.82" y="820.47" width="24.77" height="24.77" fill="#a71b21"/><rect x="885.09" y="820.47" width="24.77" height="24.77" fill="#b81e24"/><rect x="909.36" y="820.47" width="24.77" height="24.77" fill="#c02025"/><rect x="933.63" y="820.47" width="24.77" height="24.77" fill="#c92127"/><rect x="957.90" y="820.47" width="24.77" height="24.77" fill="#c92127"/><rect x="982.17" y="820.47" width="24.77" height="24.77" fill="#d3312b"/><rect x="1006.44" y="820.47" width="24.77" height="24.77" fill="#e24830"/><rect x="1030.71" y="820.47" width="24.77" height="24.77" fill="#ed6445"/><rect x="1054.98" y="820.47" width="24.77" height="24.77" fill="#f27650"/><rect x="1079.25" y="820.47" width="24.77" height="24.77" fill="#f27650"/><rect x="1103.52" y="820.47" width="24.77" height="24.77" fill="#f27d54"/><rect x="1127.79" y="820.47" width="24.77" height="24.77" fill="#f48457"/><rect x="1152.06" y="820.47" width="24.77" height="24.77" fill="#f27d54"/><rect x="1176.33" y="820.47" width="24.77" height="24.77" fill="#f27650"/><rect x="1200.60" y="820.47" width="24.77" height="24.77" fill="#f27d54"/><rect x="1224.87" y="820.47" width="24.77" height="24.77" fill="#f27952"/><rect x="1249.14" y="820.47" width="24.77" height="24.77" fill="#f8b07a"/><rect x="715.20" y="844.73" width="24.77" height="24.77" fill="#93181c"/><rect x="739.47" y="844.73" width="24.77" height="24.77" fill="#97181d"/><rect x="763.74" y="844.73" width="24.77" height="24.77" fill="#9a191e"/><rect x="788.01" y="844.73" width="24.77" height="24.77" fill="#9e1a1f"/><rect x="812.28" y="844.73" width="24.77" height="24.77" fill="#a21b20"/><rect x="836.55" y="844.73" width="24.77" height="24.77" fill="#a71b21"/><rect x="860.82" y="844.73" width="24.77" height="24.77" fill="#a21b20"/><rect x="885.09" y="844.73" width="24.77" height="24.77" fill="#b81e24"/><rect x="909.36" y="844.73" width="24.77" height="24.77" fill="#c02025"/><rect x="933.63" y="844.73" width="24.77" height="24.77" fill="#c92127"/><rect x="957.90" y="844.73" width="24.77" height="24.77" fill="#d3312b"/><rect x="982.17" y="844.73" width="24.77" height="24.77" fill="#dd402e"/><rect x="1006.44" y="844.73" width="24.77" height="24.77" fill="#ed6445"/><rect x="1030.71" y="844.73" width="24.77" height="24.77" fill="#ed6445"/><rect x="1054.98" y="844.73" width="24.77" height="24.77" fill="#f27650"/><rect x="1079.25" y="844.73" width="24.77" height="24.77" fill="#f06f4c"/><rect x="1103.52" y="844.73" width="24.77" height="24.77" fill="#ec6042"/><rect x="1127.79" y="844.73" width="24.77" height="24.77" fill="#f27650"/><rect x="1152.06" y="844.73" width="24.77" height="24.77" fill="#ef6847"/><rect x="1176.33" y="844.73" width="24.77" height="24.77" fill="#f27650"/><rect x="1200.60" y="844.73" width="24.77" height="24.77" fill="#f59260"/><rect x="1224.87" y="844.73" width="24.77" height="24.77" fill="#f9ba84"/><rect x="1249.14" y="844.73" width="24.77" height="24.77" fill="#fcd3a0"/></g>
<path clip-path="url(#hclip2)" d="M403.44 871.00L698.64 575.80M418.37 871.00L713.57 575.80M433.30 871.00L728.50 575.80M448.23 871.00L743.43 575.80M463.16 871.00L758.36 575.80M478.09 871.00L773.29 575.80M493.02 871.00L788.22 575.80M507.95 871.00L803.15 575.80M522.88 871.00L818.08 575.80M537.81 871.00L833.01 575.80M552.74 871.00L847.94 575.80M567.67 871.00L862.87 575.80M582.60 871.00L877.80 575.80M597.53 871.00L892.73 575.80M612.46 871.00L907.66 575.80M627.39 871.00L922.59 575.80M642.32 871.00L937.52 575.80M657.25 871.00L952.45 575.80M672.18 871.00L967.38 575.80M687.11 871.00L982.31 575.80M702.04 871.00L997.24 575.80M716.97 871.00L1012.17 575.80M731.90 871.00L1027.10 575.80M746.83 871.00L1042.03 575.80M761.76 871.00L1056.96 575.80M776.69 871.00L1071.89 575.80M791.62 871.00L1086.82 575.80M806.55 871.00L1101.75 575.80M821.48 871.00L1116.68 575.80M836.41 871.00L1131.61 575.80M851.34 871.00L1146.54 575.80M866.27 871.00L1161.47 575.80M881.20 871.00L1176.40 575.80M896.13 871.00L1191.33 575.80M911.06 871.00L1206.26 575.80M925.99 871.00L1221.19 575.80M940.92 871.00L1236.12 575.80M955.85 871.00L1251.05 575.80M970.78 871.00L1265.98 575.80M985.71 871.00L1280.91 575.80M1000.64 871.00L1295.84 575.80M1015.57 871.00L1310.77 575.80M1030.50 871.00L1325.70 575.80M1045.43 871.00L1340.63 575.80M1060.36 871.00L1355.56 575.80M1075.29 871.00L1370.49 575.80M1090.22 871.00L1385.42 575.80M1105.15 871.00L1400.35 575.80M1120.08 871.00L1415.28 575.80M1135.01 871.00L1430.21 575.80M1149.94 871.00L1445.14 575.80M1164.87 871.00L1460.07 575.80M1179.80 871.00L1475.00 575.80M1194.73 871.00L1489.93 575.80M1209.66 871.00L1504.86 575.80M1224.59 871.00L1519.79 575.80M1239.52 871.00L1534.72 575.80M1254.45 871.00L1549.65 575.80M1269.38 871.00L1564.58 575.80M1284.31 871.00L1579.51 575.80M1299.24 871.00L1594.44 575.80" stroke="#111" stroke-width="1.5" fill="none"/>
<path d="M715.20 589.93h5 M1273.41 589.93h-5M715.20 614.20h5 M1273.41 614.20h-5M715.20 638.47h5 M1273.41 638.47h-5M715.20 662.73h5 M1273.41 662.73h-5M715.20 687.00h5 M1273.41 687.00h-5M715.20 711.27h5 M1273.41 711.27h-5M715.20 735.53h5 M1273.41 735.53h-5M715.20 759.80h5 M1273.41 759.80h-5M715.20 784.07h5 M1273.41 784.07h-5M715.20 808.33h5 M1273.41 808.33h-5M715.20 832.60h5 M1273.41 832.60h-5M715.20 856.87h5 M1273.41 856.87h-5M727.34 869.00v-5M775.88 869.00v-5M824.42 869.00v-5M872.96 869.00v-5M921.50 869.00v-5M970.04 869.00v-5M1018.58 869.00v-5M1067.12 869.00v-5M1115.65 869.00v-5M1164.20 869.00v-5M1212.74 869.00v-5M1261.28 869.00v-5" stroke="#333" stroke-width="1.3" fill="none"/>
<rect x="715.20" y="577.8" width="558.21" height="291.20" fill="none" stroke="#0a0a0a" stroke-width="2"/>
<text x="703.60" y="596.53" font-family="'Liberation Sans', sans-serif" font-size="18.4" font-weight="normal" text-anchor="end" fill="#111" textLength="28.7" lengthAdjust="spacingAndGlyphs">DJF</text>
<text x="703.60" y="620.80" font-family="'Liberation Sans', sans-serif" font-size="18.4" font-weight="normal" text-anchor="end" fill="#111" textLength="32.3" lengthAdjust="spacingAndGlyphs">NDJ</text>
<text x="703.60" y="645.07" font-family="'Liberation Sans', sans-serif" font-size="18.4" font-weight="normal" text-anchor="end" fill="#111" textLength="41.2" lengthAdjust="spacingAndGlyphs">OND</text>
<text x="703.60" y="669.33" font-family="'Liberation Sans', sans-serif" font-size="18.4" font-weight="normal" text-anchor="end" fill="#111" textLength="38.5" lengthAdjust="spacingAndGlyphs">SON</text>
<text x="703.60" y="693.60" font-family="'Liberation Sans', sans-serif" font-size="18.4" font-weight="normal" text-anchor="end" fill="#111" textLength="37.9" lengthAdjust="spacingAndGlyphs">ASO</text>
<text x="703.60" y="717.87" font-family="'Liberation Sans', sans-serif" font-size="18.4" font-weight="normal" text-anchor="end" fill="#111" textLength="29" lengthAdjust="spacingAndGlyphs">JAS</text>
<text x="703.60" y="742.13" font-family="'Liberation Sans', sans-serif" font-size="18.4" font-weight="normal" text-anchor="end" fill="#111" textLength="22.8" lengthAdjust="spacingAndGlyphs">JJA</text>
<text x="703.60" y="766.40" font-family="'Liberation Sans', sans-serif" font-size="18.4" font-weight="normal" text-anchor="end" fill="#111" textLength="25.6" lengthAdjust="spacingAndGlyphs">MJJ</text>
<text x="703.60" y="790.67" font-family="'Liberation Sans', sans-serif" font-size="18.4" font-weight="normal" text-anchor="end" fill="#111" textLength="32.6" lengthAdjust="spacingAndGlyphs">AMJ</text>
<text x="703.60" y="814.93" font-family="'Liberation Sans', sans-serif" font-size="18.4" font-weight="normal" text-anchor="end" fill="#111" textLength="43" lengthAdjust="spacingAndGlyphs">MAM</text>
<text x="703.60" y="839.20" font-family="'Liberation Sans', sans-serif" font-size="18.4" font-weight="normal" text-anchor="end" fill="#111" textLength="37.9" lengthAdjust="spacingAndGlyphs">FMA</text>
<text x="703.60" y="863.47" font-family="'Liberation Sans', sans-serif" font-size="18.4" font-weight="normal" text-anchor="end" fill="#111" textLength="31.4" lengthAdjust="spacingAndGlyphs">JFM</text>
<text x="727.34" y="893.70" font-family="'Liberation Sans', sans-serif" font-size="18.3" font-weight="normal" text-anchor="middle" fill="#111" textLength="9.5" lengthAdjust="spacingAndGlyphs">1</text>
<text x="775.88" y="893.70" font-family="'Liberation Sans', sans-serif" font-size="18.3" font-weight="normal" text-anchor="middle" fill="#111" textLength="9.5" lengthAdjust="spacingAndGlyphs">3</text>
<text x="824.42" y="893.70" font-family="'Liberation Sans', sans-serif" font-size="18.3" font-weight="normal" text-anchor="middle" fill="#111" textLength="9.5" lengthAdjust="spacingAndGlyphs">5</text>
<text x="872.96" y="893.70" font-family="'Liberation Sans', sans-serif" font-size="18.3" font-weight="normal" text-anchor="middle" fill="#111" textLength="9.5" lengthAdjust="spacingAndGlyphs">7</text>
<text x="921.50" y="893.70" font-family="'Liberation Sans', sans-serif" font-size="18.3" font-weight="normal" text-anchor="middle" fill="#111" textLength="9.5" lengthAdjust="spacingAndGlyphs">9</text>
<text x="970.04" y="893.70" font-family="'Liberation Sans', sans-serif" font-size="18.3" font-weight="normal" text-anchor="middle" fill="#111" textLength="21" lengthAdjust="spacingAndGlyphs">11</text>
<text x="1018.58" y="893.70" font-family="'Liberation Sans', sans-serif" font-size="18.3" font-weight="normal" text-anchor="middle" fill="#111" textLength="21" lengthAdjust="spacingAndGlyphs">13</text>
<text x="1067.12" y="893.70" font-family="'Liberation Sans', sans-serif" font-size="18.3" font-weight="normal" text-anchor="middle" fill="#111" textLength="21" lengthAdjust="spacingAndGlyphs">15</text>
<text x="1115.65" y="893.70" font-family="'Liberation Sans', sans-serif" font-size="18.3" font-weight="normal" text-anchor="middle" fill="#111" textLength="21" lengthAdjust="spacingAndGlyphs">17</text>
<text x="1164.20" y="893.70" font-family="'Liberation Sans', sans-serif" font-size="18.3" font-weight="normal" text-anchor="middle" fill="#111" textLength="21" lengthAdjust="spacingAndGlyphs">19</text>
<text x="1212.74" y="893.70" font-family="'Liberation Sans', sans-serif" font-size="18.3" font-weight="normal" text-anchor="middle" fill="#111" textLength="21" lengthAdjust="spacingAndGlyphs">21</text>
<text x="1261.28" y="893.70" font-family="'Liberation Sans', sans-serif" font-size="18.3" font-weight="normal" text-anchor="middle" fill="#111" textLength="21" lengthAdjust="spacingAndGlyphs">23</text>
<text x="869.80" y="916.30" font-family="'Liberation Sans', sans-serif" font-size="19.8" font-weight="normal" text-anchor="start" fill="#111" textLength="249.5" lengthAdjust="spacingAndGlyphs">Forecast lead (months)</text>
<text transform="translate(32.8,799.3) rotate(-90)" font-family="'Liberation Sans', sans-serif" font-size="22" fill="#111" textLength="151.3" lengthAdjust="spacingAndGlyphs">Target season</text>
<defs><linearGradient id="cbg" x1="0" x2="1" y1="0" y2="0"><stop offset="0.0" stop-color="#fff6ea"/><stop offset="0.1" stop-color="#feebcd"/><stop offset="0.2" stop-color="#fcd9a8"/><stop offset="0.3" stop-color="#fbca93"/><stop offset="0.4" stop-color="#f8b07a"/><stop offset="0.5" stop-color="#f58f5d"/><stop offset="0.6" stop-color="#f06b4a"/><stop offset="0.7" stop-color="#e24830"/><stop offset="0.8" stop-color="#c92127"/><stop offset="0.9" stop-color="#9e1a1f"/><stop offset="1.0" stop-color="#7a1215"/></linearGradient></defs>
<rect x="257.0" y="943.2" width="859.0" height="16.0" fill="url(#cbg)" stroke="#0a0a0a" stroke-width="1.8"/>
<text x="257.00" y="987.70" font-family="'Liberation Sans', sans-serif" font-size="13" font-weight="normal" text-anchor="middle" fill="#111" textLength="22.5" lengthAdjust="spacingAndGlyphs">0.0</text>
<text x="428.80" y="987.70" font-family="'Liberation Sans', sans-serif" font-size="13" font-weight="normal" text-anchor="middle" fill="#111" textLength="22.5" lengthAdjust="spacingAndGlyphs">0.2</text>
<text x="600.60" y="987.70" font-family="'Liberation Sans', sans-serif" font-size="13" font-weight="normal" text-anchor="middle" fill="#111" textLength="22.5" lengthAdjust="spacingAndGlyphs">0.4</text>
<text x="772.40" y="987.70" font-family="'Liberation Sans', sans-serif" font-size="13" font-weight="normal" text-anchor="middle" fill="#111" textLength="22.5" lengthAdjust="spacingAndGlyphs">0.6</text>
<text x="944.20" y="987.70" font-family="'Liberation Sans', sans-serif" font-size="13" font-weight="normal" text-anchor="middle" fill="#111" textLength="22.5" lengthAdjust="spacingAndGlyphs">0.8</text>
<text x="1116.00" y="987.70" font-family="'Liberation Sans', sans-serif" font-size="13" font-weight="normal" text-anchor="middle" fill="#111" textLength="22.5" lengthAdjust="spacingAndGlyphs">1.0</text>
<path d="M257.00 959.20v5M428.80 959.20v5M600.60 959.20v5M772.40 959.20v5M944.20 959.20v5M1116.00 959.20v5" stroke="#222" stroke-width="1" fill="none"/>
</svg></body></html>
